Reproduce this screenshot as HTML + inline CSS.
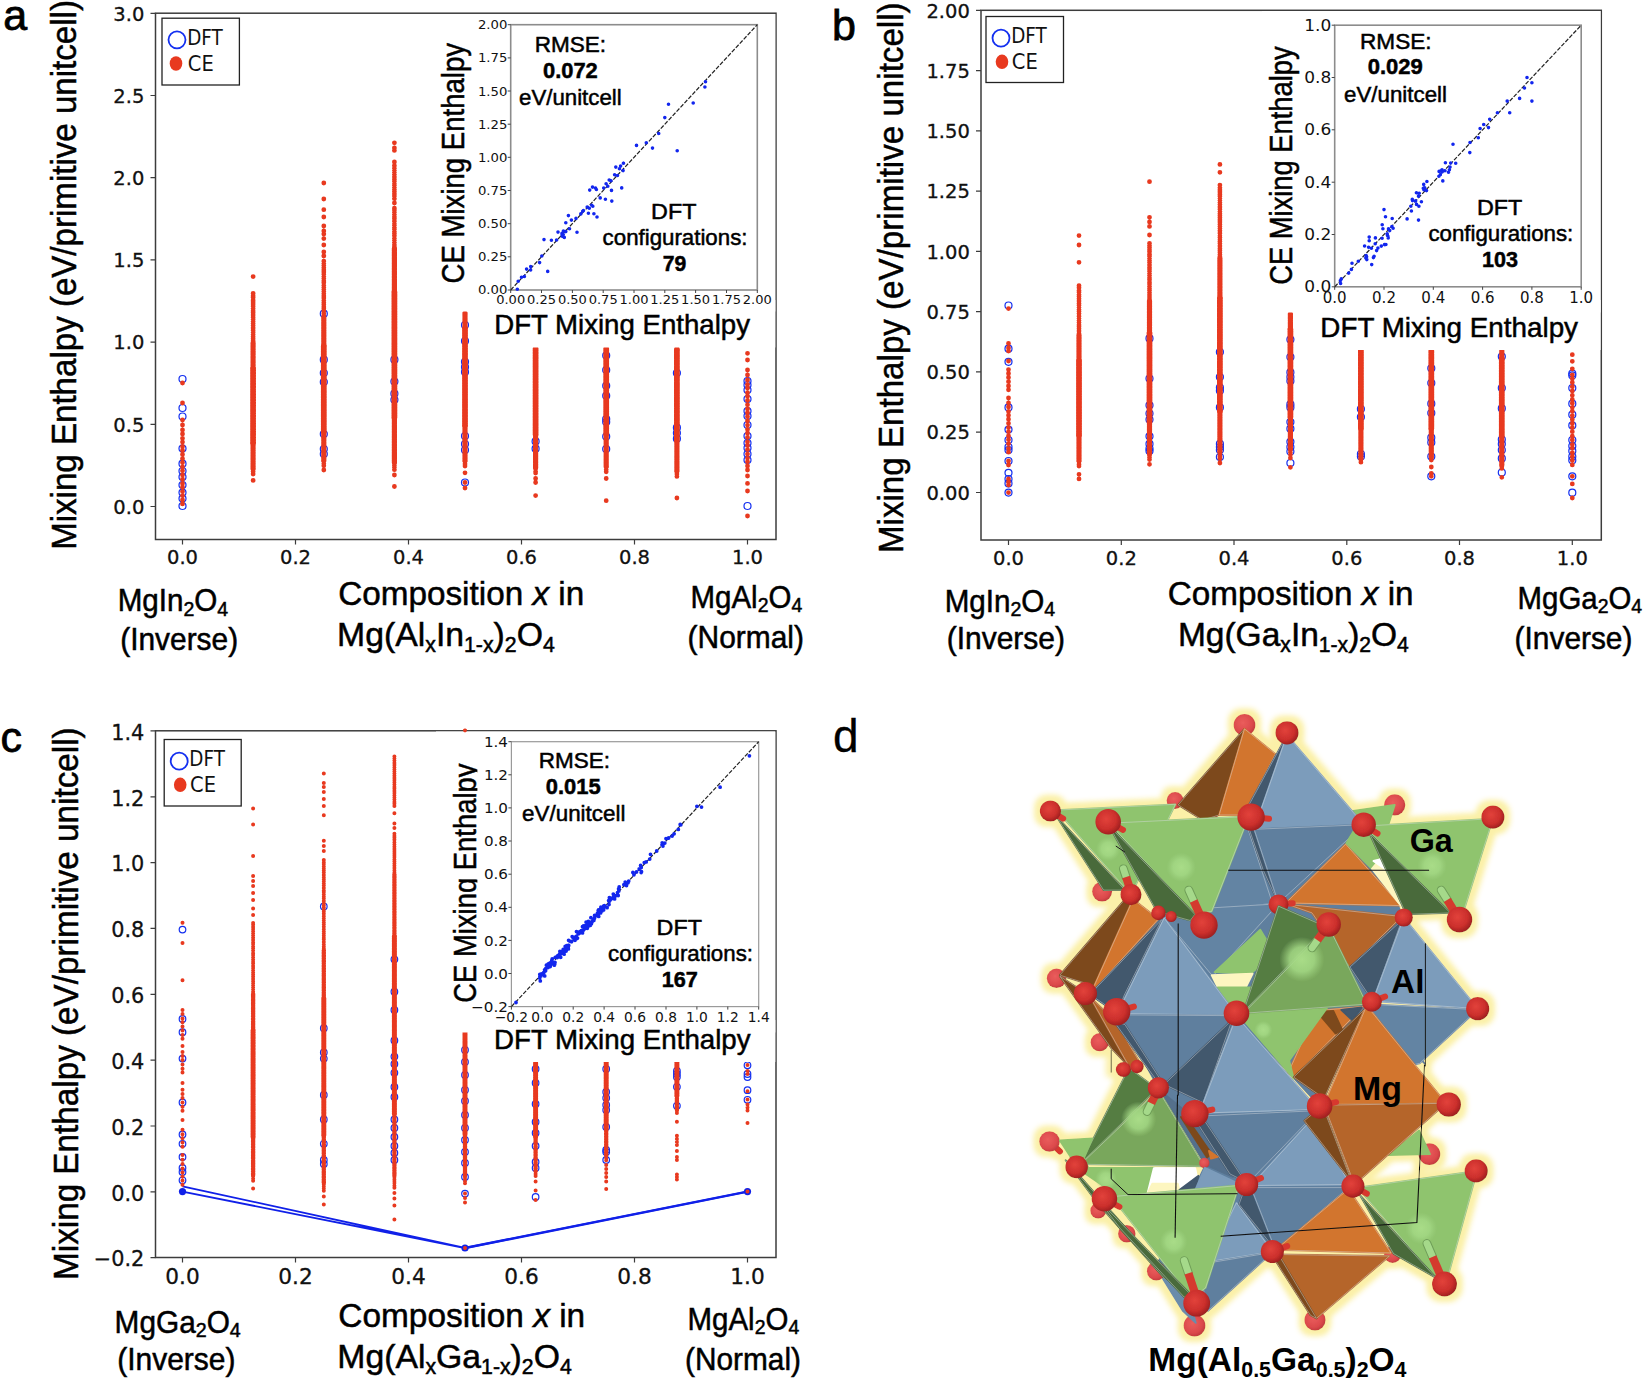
<!DOCTYPE html>
<html lang="en"><head><meta charset="utf-8"><title>Mixing enthalpy figure</title>
<style>html,body{margin:0;padding:0;background:#fff}svg{display:block}</style></head>
<body>
<svg width="1644" height="1381" viewBox="0 0 1644 1381">
<rect width="1644" height="1381" fill="#fff"/>
<g fill="none" stroke="#1430f0" stroke-width="1.2"><circle cx="182.5" cy="379.0" r="3.5"/><circle cx="182.5" cy="408.0" r="3.5"/><circle cx="182.5" cy="416.5" r="3.5"/><circle cx="182.5" cy="448.5" r="3.5"/><circle cx="182.5" cy="463.7" r="3.5"/><circle cx="182.5" cy="471.0" r="3.5"/><circle cx="182.5" cy="477.0" r="3.5"/><circle cx="182.5" cy="485.0" r="3.5"/><circle cx="182.5" cy="492.6" r="3.5"/><circle cx="182.5" cy="498.6" r="3.5"/><circle cx="182.5" cy="506.0" r="3.5"/><circle cx="323.8" cy="313.7" r="3.5"/><circle cx="323.8" cy="359.7" r="3.5"/><circle cx="323.8" cy="373.0" r="3.5"/><circle cx="323.8" cy="382.0" r="3.5"/><circle cx="323.8" cy="434.0" r="3.5"/><circle cx="323.8" cy="449.0" r="3.5"/><circle cx="323.8" cy="454.0" r="3.5"/><circle cx="394.4" cy="359.7" r="3.5"/><circle cx="394.4" cy="381.6" r="3.5"/><circle cx="394.4" cy="393.7" r="3.5"/><circle cx="394.4" cy="399.8" r="3.5"/><circle cx="465.0" cy="325.0" r="3.5"/><circle cx="465.0" cy="341.0" r="3.5"/><circle cx="465.0" cy="361.8" r="3.5"/><circle cx="465.0" cy="367.0" r="3.5"/><circle cx="465.0" cy="372.0" r="3.5"/><circle cx="465.0" cy="436.0" r="3.5"/><circle cx="465.0" cy="444.0" r="3.5"/><circle cx="465.0" cy="450.0" r="3.5"/><circle cx="465.0" cy="482.5" r="3.5"/><circle cx="535.6" cy="441.4" r="3.5"/><circle cx="535.6" cy="448.7" r="3.5"/><circle cx="606.2" cy="355.6" r="3.5"/><circle cx="606.2" cy="370.0" r="3.5"/><circle cx="606.2" cy="385.8" r="3.5"/><circle cx="606.2" cy="395.8" r="3.5"/><circle cx="606.2" cy="419.0" r="3.5"/><circle cx="606.2" cy="422.0" r="3.5"/><circle cx="606.2" cy="436.5" r="3.5"/><circle cx="606.2" cy="449.0" r="3.5"/><circle cx="676.9" cy="373.0" r="3.5"/><circle cx="676.9" cy="427.7" r="3.5"/><circle cx="676.9" cy="433.0" r="3.5"/><circle cx="676.9" cy="438.7" r="3.5"/><circle cx="747.5" cy="381.0" r="3.5"/><circle cx="747.5" cy="385.0" r="3.5"/><circle cx="747.5" cy="390.0" r="3.5"/><circle cx="747.5" cy="399.0" r="3.5"/><circle cx="747.5" cy="411.0" r="3.5"/><circle cx="747.5" cy="416.0" r="3.5"/><circle cx="747.5" cy="425.0" r="3.5"/><circle cx="747.5" cy="436.0" r="3.5"/><circle cx="747.5" cy="443.0" r="3.5"/><circle cx="747.5" cy="448.0" r="3.5"/><circle cx="747.5" cy="454.0" r="3.5"/><circle cx="747.5" cy="460.0" r="3.5"/><circle cx="747.5" cy="506.0" r="3.5"/></g>
<path d="M182.5 429.9h.01M182.5 433.9h.01M182.5 438.3h.01M182.5 442.1h.01M182.5 446.4h.01M182.5 450.4h.01M182.5 454.4h.01M182.5 458.7h.01M182.5 462.6h.01M182.5 466.9h.01M182.5 470.8h.01M182.5 474.9h.01M182.5 479.2h.01M182.5 483.5h.01M182.5 487.2h.01M182.5 491.4h.01M182.5 495.7h.01M182.5 500.0h.01M182.5 503.9h.01M182.5 403.0h.01M182.5 383.0h.01M182.5 420.0h.01M182.5 425.0h.01M253.1 293.4h.01M253.1 295.9h.01M253.1 297.5h.01M253.1 300.2h.01M253.1 302.0h.01M253.1 304.1h.01M253.1 306.2h.01M253.1 308.5h.01M253.1 311.0h.01M253.1 312.7h.01M253.1 315.1h.01M253.1 317.3h.01M253.1 319.3h.01M253.1 321.6h.01M253.1 323.5h.01M253.1 325.6h.01M253.1 327.9h.01M253.1 330.3h.01M253.1 332.3h.01M253.1 334.4h.01M253.1 336.8h.01M253.1 338.8h.01M253.1 340.9h.01M253.1 469.5h.01M253.1 471.5h.01M253.1 474.0h.01M253.1 276.6h.01M253.1 480.4h.01M323.8 261.2h.01M323.8 263.4h.01M323.8 265.6h.01M323.8 267.8h.01M323.8 270.0h.01M323.8 272.0h.01M323.8 274.2h.01M323.8 276.4h.01M323.8 278.5h.01M323.8 280.9h.01M323.8 282.8h.01M323.8 285.5h.01M323.8 287.5h.01M323.8 289.4h.01M323.8 291.6h.01M323.8 293.8h.01M323.8 296.0h.01M323.8 298.0h.01M323.8 300.6h.01M323.8 302.8h.01M323.8 304.7h.01M323.8 306.9h.01M323.8 308.8h.01M323.8 310.9h.01M323.8 313.2h.01M323.8 315.4h.01M323.8 461.5h.01M323.8 463.8h.01M323.8 465.8h.01M323.8 252.0h.01M323.8 238.6h.01M323.8 234.0h.01M323.8 231.0h.01M323.8 217.0h.01M323.8 209.7h.01M323.8 199.0h.01M323.8 183.0h.01M323.8 256.0h.01M323.8 245.0h.01M323.8 226.0h.01M323.8 470.0h.01M394.4 208.2h.01M394.4 210.1h.01M394.4 212.3h.01M394.4 214.5h.01M394.4 216.9h.01M394.4 218.8h.01M394.4 221.2h.01M394.4 223.1h.01M394.4 225.3h.01M394.4 227.5h.01M394.4 229.3h.01M394.4 231.7h.01M394.4 233.7h.01M394.4 235.8h.01M394.4 238.4h.01M394.4 240.2h.01M394.4 242.5h.01M394.4 244.9h.01M394.4 246.9h.01M394.4 463.4h.01M394.4 465.5h.01M394.4 467.5h.01M394.4 469.7h.01M394.4 165.7h.01M394.4 168.3h.01M394.4 170.2h.01M394.4 172.3h.01M394.4 174.4h.01M394.4 177.0h.01M394.4 179.2h.01M394.4 181.2h.01M394.4 183.1h.01M394.4 185.3h.01M394.4 187.5h.01M394.4 189.7h.01M394.4 191.7h.01M394.4 194.0h.01M394.4 196.1h.01M394.4 198.7h.01M394.4 150.4h.01M394.4 148.0h.01M394.4 142.8h.01M394.4 486.5h.01M394.4 475.0h.01M394.4 203.0h.01M394.4 162.0h.01M465.0 461.7h.01M465.0 464.0h.01M465.0 466.1h.01M465.0 472.8h.01M465.0 482.5h.01M465.0 488.0h.01M535.6 468.7h.01M535.6 471.4h.01M535.6 473.1h.01M535.6 482.5h.01M535.6 495.6h.01M535.6 478.5h.01M606.2 467.2h.01M606.2 469.8h.01M606.2 471.8h.01M606.2 478.5h.01M606.2 500.7h.01M676.9 472.0h.01M676.9 474.1h.01M676.9 476.4h.01M676.9 498.0h.01M747.5 379.9h.01M747.5 384.4h.01M747.5 388.0h.01M747.5 392.6h.01M747.5 396.2h.01M747.5 400.4h.01M747.5 404.8h.01M747.5 408.9h.01M747.5 412.8h.01M747.5 416.7h.01M747.5 421.0h.01M747.5 425.1h.01M747.5 429.5h.01M747.5 433.2h.01M747.5 437.4h.01M747.5 441.8h.01M747.5 445.4h.01M747.5 449.7h.01M747.5 454.1h.01M747.5 458.1h.01M747.5 461.8h.01M747.5 465.9h.01M747.5 470.0h.01M747.5 353.3h.01M747.5 360.0h.01M747.5 370.0h.01M747.5 375.0h.01M747.5 483.4h.01M747.5 491.0h.01M747.5 516.0h.01M747.5 476.0h.01" stroke="#e8391f" stroke-width="4.8" stroke-linecap="round" fill="none"/>
<path d="M253.1 343.4h.01M253.1 344.9h.01M253.1 346.2h.01M253.1 348.0h.01M253.1 349.6h.01M253.1 351.4h.01M253.1 352.9h.01M253.1 354.3h.01M253.1 356.3h.01M253.1 357.4h.01M253.1 359.1h.01M253.1 360.9h.01M253.1 362.2h.01M253.1 364.0h.01M253.1 365.3h.01M253.1 367.3h.01M253.1 443.8h.01M253.1 445.3h.01M253.1 447.1h.01M253.1 448.7h.01M253.1 450.4h.01M253.1 452.3h.01M253.1 453.7h.01M253.1 455.2h.01M253.1 456.9h.01M253.1 458.5h.01M253.1 459.7h.01M253.1 461.8h.01M253.1 463.3h.01M253.1 465.0h.01M253.1 466.6h.01M253.1 467.9h.01M323.8 317.9h.01M323.8 319.1h.01M323.8 320.6h.01M323.8 322.7h.01M323.8 324.1h.01M323.8 325.4h.01M323.8 327.3h.01M323.8 328.6h.01M323.8 330.5h.01M323.8 332.3h.01M323.8 333.9h.01M323.8 335.4h.01M323.8 336.7h.01M323.8 338.4h.01M323.8 339.9h.01M323.8 341.8h.01M323.8 343.3h.01M323.8 345.0h.01M323.8 433.1h.01M323.8 434.6h.01M323.8 436.0h.01M323.8 437.7h.01M323.8 439.0h.01M323.8 440.6h.01M323.8 442.7h.01M323.8 444.1h.01M323.8 445.7h.01M323.8 447.5h.01M323.8 448.8h.01M323.8 450.7h.01M323.8 452.3h.01M323.8 453.5h.01M323.8 455.1h.01M323.8 456.7h.01M323.8 458.3h.01M323.8 460.1h.01M394.4 248.9h.01M394.4 250.7h.01M394.4 252.3h.01M394.4 254.0h.01M394.4 255.2h.01M394.4 257.1h.01M394.4 258.5h.01M394.4 260.1h.01M394.4 262.0h.01M394.4 263.4h.01M394.4 265.1h.01M394.4 266.8h.01M394.4 268.5h.01M394.4 269.8h.01M394.4 271.5h.01M394.4 273.0h.01M394.4 274.6h.01M394.4 276.4h.01M394.4 277.8h.01M394.4 279.5h.01M394.4 281.0h.01M394.4 282.9h.01M394.4 284.4h.01M394.4 286.1h.01M394.4 287.7h.01M394.4 288.9h.01M394.4 290.7h.01M394.4 418.5h.01M394.4 420.1h.01M394.4 422.0h.01M394.4 423.3h.01M394.4 425.0h.01M394.4 426.4h.01M394.4 428.1h.01M394.4 429.6h.01M394.4 431.3h.01M394.4 432.7h.01M394.4 434.8h.01M394.4 436.3h.01M394.4 437.7h.01M394.4 439.4h.01M394.4 441.3h.01M394.4 442.4h.01M394.4 444.4h.01M394.4 445.8h.01M394.4 447.4h.01M394.4 449.2h.01M394.4 450.6h.01M394.4 452.2h.01M394.4 454.0h.01M394.4 455.7h.01M394.4 456.9h.01M394.4 458.8h.01M394.4 460.4h.01M394.4 461.9h.01M465.0 313.3h.01M465.0 314.6h.01M465.0 316.0h.01M465.0 318.1h.01M465.0 319.3h.01M465.0 320.9h.01M465.0 322.3h.01M465.0 324.1h.01M465.0 325.8h.01M465.0 327.4h.01M465.0 426.4h.01M465.0 428.3h.01M465.0 430.1h.01M465.0 431.4h.01M465.0 432.9h.01M465.0 434.6h.01M465.0 436.3h.01M465.0 438.0h.01M465.0 439.5h.01M465.0 441.1h.01M465.0 442.3h.01M465.0 444.0h.01M465.0 445.7h.01M465.0 447.5h.01M465.0 448.9h.01M465.0 450.6h.01M465.0 451.9h.01M465.0 453.5h.01M465.0 455.3h.01M465.0 457.1h.01M465.0 458.7h.01M465.0 460.3h.01M535.6 435.3h.01M535.6 437.3h.01M535.6 438.4h.01M535.6 440.1h.01M535.6 441.8h.01M535.6 443.2h.01M535.6 444.9h.01M535.6 446.9h.01M535.6 448.4h.01M535.6 450.0h.01M535.6 451.5h.01M535.6 453.2h.01M535.6 454.9h.01M535.6 456.2h.01M535.6 457.9h.01M535.6 459.1h.01M535.6 461.1h.01M535.6 462.6h.01M535.6 464.4h.01M535.6 465.9h.01M535.6 467.3h.01M606.2 435.5h.01M606.2 436.7h.01M606.2 438.5h.01M606.2 440.5h.01M606.2 442.0h.01M606.2 443.6h.01M606.2 445.3h.01M606.2 446.4h.01M606.2 448.0h.01M606.2 449.6h.01M606.2 451.4h.01M606.2 453.1h.01M606.2 454.9h.01M606.2 456.3h.01M606.2 457.9h.01M606.2 459.6h.01M606.2 461.0h.01M606.2 462.6h.01M606.2 463.9h.01M606.2 466.0h.01M676.9 348.9h.01M676.9 442.1h.01M676.9 443.2h.01M676.9 444.7h.01M676.9 446.3h.01M676.9 448.1h.01M676.9 450.0h.01M676.9 451.6h.01M676.9 453.1h.01M676.9 454.9h.01M676.9 456.5h.01M676.9 457.7h.01M676.9 459.2h.01M676.9 461.3h.01M676.9 462.7h.01M676.9 463.9h.01M676.9 465.9h.01M676.9 467.3h.01M676.9 468.9h.01M676.9 470.5h.01" stroke="#e8391f" stroke-width="5.3" stroke-linecap="round" fill="none"/>
<path d="M253.1 368.9h.01M253.1 370.4h.01M253.1 372.2h.01M253.1 373.5h.01M253.1 375.3h.01M253.1 376.8h.01M253.1 378.4h.01M253.1 380.0h.01M253.1 381.8h.01M253.1 383.4h.01M253.1 384.8h.01M253.1 386.5h.01M253.1 387.7h.01M253.1 389.7h.01M253.1 391.3h.01M253.1 393.1h.01M253.1 394.6h.01M253.1 395.9h.01M253.1 397.5h.01M253.1 399.3h.01M253.1 400.5h.01M253.1 402.4h.01M253.1 403.8h.01M253.1 405.4h.01M253.1 406.9h.01M253.1 408.9h.01M253.1 410.2h.01M253.1 411.8h.01M253.1 413.5h.01M253.1 415.4h.01M253.1 416.5h.01M253.1 418.3h.01M253.1 420.0h.01M253.1 421.8h.01M253.1 423.4h.01M253.1 425.0h.01M253.1 426.2h.01M253.1 427.9h.01M253.1 429.5h.01M253.1 431.4h.01M253.1 433.1h.01M253.1 434.2h.01M253.1 435.8h.01M253.1 437.4h.01M253.1 439.0h.01M253.1 440.8h.01M253.1 442.4h.01M323.8 346.4h.01M323.8 347.9h.01M323.8 349.8h.01M323.8 351.6h.01M323.8 353.1h.01M323.8 354.6h.01M323.8 356.3h.01M323.8 357.8h.01M323.8 359.1h.01M323.8 360.9h.01M323.8 362.4h.01M323.8 363.8h.01M323.8 365.4h.01M323.8 367.1h.01M323.8 368.7h.01M323.8 370.6h.01M323.8 372.3h.01M323.8 373.6h.01M323.8 375.5h.01M323.8 377.2h.01M323.8 378.7h.01M323.8 380.0h.01M323.8 381.5h.01M323.8 383.1h.01M323.8 384.7h.01M323.8 386.3h.01M323.8 388.1h.01M323.8 389.9h.01M323.8 391.5h.01M323.8 392.8h.01M323.8 394.6h.01M323.8 396.2h.01M323.8 397.4h.01M323.8 399.4h.01M323.8 401.1h.01M323.8 402.6h.01M323.8 404.2h.01M323.8 405.6h.01M323.8 407.1h.01M323.8 409.0h.01M323.8 410.4h.01M323.8 412.2h.01M323.8 413.9h.01M323.8 415.2h.01M323.8 416.8h.01M323.8 418.7h.01M323.8 420.2h.01M323.8 421.5h.01M323.8 423.0h.01M323.8 424.7h.01M323.8 426.7h.01M323.8 428.2h.01M323.8 429.4h.01M323.8 431.5h.01M394.4 292.5h.01M394.4 294.0h.01M394.4 295.2h.01M394.4 296.8h.01M394.4 298.6h.01M394.4 300.0h.01M394.4 301.7h.01M394.4 303.2h.01M394.4 305.1h.01M394.4 306.8h.01M394.4 308.5h.01M394.4 309.6h.01M394.4 311.6h.01M394.4 313.1h.01M394.4 314.4h.01M394.4 316.5h.01M394.4 318.1h.01M394.4 319.3h.01M394.4 321.3h.01M394.4 322.6h.01M394.4 324.2h.01M394.4 326.1h.01M394.4 327.6h.01M394.4 328.8h.01M394.4 330.6h.01M394.4 332.2h.01M394.4 333.7h.01M394.4 335.3h.01M394.4 336.9h.01M394.4 338.8h.01M394.4 340.0h.01M394.4 341.9h.01M394.4 343.4h.01M394.4 344.8h.01M394.4 346.5h.01M394.4 348.3h.01M394.4 349.8h.01M394.4 351.2h.01M394.4 353.3h.01M394.4 354.8h.01M394.4 356.5h.01M394.4 357.6h.01M394.4 359.3h.01M394.4 360.8h.01M394.4 362.8h.01M394.4 364.1h.01M394.4 365.6h.01M394.4 367.4h.01M394.4 369.3h.01M394.4 370.8h.01M394.4 372.1h.01M394.4 373.6h.01M394.4 375.7h.01M394.4 377.1h.01M394.4 378.8h.01M394.4 380.0h.01M394.4 381.6h.01M394.4 383.6h.01M394.4 385.0h.01M394.4 386.4h.01M394.4 388.5h.01M394.4 389.9h.01M394.4 391.6h.01M394.4 392.8h.01M394.4 394.9h.01M394.4 396.0h.01M394.4 398.1h.01M394.4 399.4h.01M394.4 400.9h.01M394.4 402.7h.01M394.4 404.5h.01M394.4 405.7h.01M394.4 407.2h.01M394.4 409.1h.01M394.4 410.5h.01M394.4 412.0h.01M394.4 413.6h.01M394.4 415.2h.01M394.4 416.9h.01M465.0 328.8h.01M465.0 330.6h.01M465.0 331.9h.01M465.0 333.7h.01M465.0 335.2h.01M465.0 336.9h.01M465.0 338.3h.01M465.0 339.9h.01M465.0 341.7h.01M465.0 343.2h.01M465.0 345.1h.01M465.0 346.6h.01M465.0 348.4h.01M465.0 349.9h.01M465.0 351.5h.01M465.0 353.2h.01M465.0 354.5h.01M465.0 356.1h.01M465.0 358.1h.01M465.0 359.2h.01M465.0 361.1h.01M465.0 362.7h.01M465.0 363.9h.01M465.0 366.0h.01M465.0 367.6h.01M465.0 369.1h.01M465.0 370.7h.01M465.0 372.4h.01M465.0 373.6h.01M465.0 375.4h.01M465.0 377.0h.01M465.0 378.8h.01M465.0 380.4h.01M465.0 382.0h.01M465.0 383.5h.01M465.0 385.2h.01M465.0 386.7h.01M465.0 388.3h.01M465.0 389.6h.01M465.0 391.1h.01M465.0 392.8h.01M465.0 394.5h.01M465.0 396.0h.01M465.0 398.0h.01M465.0 399.4h.01M465.0 401.1h.01M465.0 402.7h.01M465.0 404.3h.01M465.0 405.8h.01M465.0 407.1h.01M465.0 409.2h.01M465.0 410.7h.01M465.0 412.2h.01M465.0 413.8h.01M465.0 415.5h.01M465.0 416.7h.01M465.0 418.7h.01M465.0 420.1h.01M465.0 421.5h.01M465.0 423.3h.01M465.0 425.1h.01M535.6 349.0h.01M535.6 350.4h.01M535.6 352.4h.01M535.6 353.6h.01M535.6 355.7h.01M535.6 357.3h.01M535.6 358.3h.01M535.6 360.2h.01M535.6 362.0h.01M535.6 363.7h.01M535.6 365.0h.01M535.6 366.5h.01M535.6 368.0h.01M535.6 370.1h.01M535.6 371.2h.01M535.6 373.0h.01M535.6 374.4h.01M535.6 376.2h.01M535.6 378.1h.01M535.6 379.2h.01M535.6 381.2h.01M535.6 382.6h.01M535.6 384.4h.01M535.6 385.9h.01M535.6 387.2h.01M535.6 389.2h.01M535.6 390.6h.01M535.6 391.9h.01M535.6 393.5h.01M535.6 395.4h.01M535.6 397.0h.01M535.6 398.5h.01M535.6 400.0h.01M535.6 401.7h.01M535.6 403.3h.01M535.6 405.2h.01M535.6 406.3h.01M535.6 408.4h.01M535.6 410.0h.01M535.6 411.2h.01M535.6 413.3h.01M535.6 414.7h.01M535.6 416.4h.01M535.6 417.7h.01M535.6 419.3h.01M535.6 420.9h.01M535.6 422.9h.01M535.6 424.3h.01M535.6 425.7h.01M535.6 427.4h.01M535.6 428.9h.01M535.6 430.3h.01M535.6 432.0h.01M535.6 434.0h.01M606.2 349.0h.01M606.2 350.5h.01M606.2 352.1h.01M606.2 353.9h.01M606.2 355.7h.01M606.2 356.9h.01M606.2 358.7h.01M606.2 360.1h.01M606.2 361.8h.01M606.2 363.3h.01M606.2 364.8h.01M606.2 366.4h.01M606.2 368.0h.01M606.2 370.0h.01M606.2 371.4h.01M606.2 372.8h.01M606.2 374.8h.01M606.2 376.5h.01M606.2 377.8h.01M606.2 379.2h.01M606.2 380.8h.01M606.2 382.4h.01M606.2 384.1h.01M606.2 385.6h.01M606.2 387.2h.01M606.2 388.9h.01M606.2 390.6h.01M606.2 392.4h.01M606.2 393.9h.01M606.2 395.3h.01M606.2 396.9h.01M606.2 398.6h.01M606.2 400.1h.01M606.2 401.7h.01M606.2 403.1h.01M606.2 404.9h.01M606.2 406.9h.01M606.2 408.0h.01M606.2 409.8h.01M606.2 411.5h.01M606.2 413.2h.01M606.2 414.4h.01M606.2 416.1h.01M606.2 417.6h.01M606.2 419.3h.01M606.2 421.0h.01M606.2 422.9h.01M606.2 424.4h.01M606.2 426.0h.01M606.2 427.1h.01M606.2 428.7h.01M606.2 430.7h.01M606.2 432.4h.01M606.2 433.8h.01M676.9 350.4h.01M676.9 352.1h.01M676.9 353.9h.01M676.9 355.5h.01M676.9 356.8h.01M676.9 358.3h.01M676.9 360.2h.01M676.9 361.8h.01M676.9 363.3h.01M676.9 364.8h.01M676.9 366.7h.01M676.9 367.9h.01M676.9 369.7h.01M676.9 371.4h.01M676.9 373.3h.01M676.9 374.7h.01M676.9 376.4h.01M676.9 377.8h.01M676.9 379.2h.01M676.9 380.8h.01M676.9 382.9h.01M676.9 384.3h.01M676.9 385.7h.01M676.9 387.1h.01M676.9 389.0h.01M676.9 390.7h.01M676.9 392.2h.01M676.9 393.7h.01M676.9 395.5h.01M676.9 397.3h.01M676.9 398.4h.01M676.9 399.9h.01M676.9 401.7h.01M676.9 403.4h.01M676.9 405.1h.01M676.9 406.4h.01M676.9 408.4h.01M676.9 409.9h.01M676.9 411.4h.01M676.9 412.8h.01M676.9 414.9h.01M676.9 416.1h.01M676.9 418.0h.01M676.9 419.2h.01M676.9 420.8h.01M676.9 422.8h.01M676.9 424.1h.01M676.9 426.1h.01M676.9 427.4h.01M676.9 428.8h.01M676.9 430.4h.01M676.9 432.2h.01M676.9 433.9h.01M676.9 435.7h.01M676.9 436.8h.01M676.9 438.5h.01M676.9 440.0h.01" stroke="#e8391f" stroke-width="5.9" stroke-linecap="round" fill="none"/>

<rect x="155.5" y="13.2" width="620.5" height="526.3" fill="none" stroke="#3c3c3c" stroke-width="1.5"/>
<path d="M182.5 539.5v5M295.5 539.5v5M408.5 539.5v5M521.5 539.5v5M634.5 539.5v5M747.5 539.5v5M155.5 506.5h-5M155.5 424.3h-5M155.5 342.1h-5M155.5 259.9h-5M155.5 177.7h-5M155.5 95.5h-5M155.5 13.3h-5" stroke="#3c3c3c" stroke-width="1.2" fill="none"/>
<g font-family='"DejaVu Sans",sans-serif' font-size="19.5" fill="#111" stroke="#111" stroke-width="0.3">
<text x="182.5" y="564.1" text-anchor="middle">0.0</text>
<text x="295.5" y="564.1" text-anchor="middle">0.2</text>
<text x="408.5" y="564.1" text-anchor="middle">0.4</text>
<text x="521.5" y="564.1" text-anchor="middle">0.6</text>
<text x="634.5" y="564.1" text-anchor="middle">0.8</text>
<text x="747.5" y="564.1" text-anchor="middle">1.0</text>
<text x="144.3" y="513.7" text-anchor="end">0.0</text>
<text x="144.3" y="431.5" text-anchor="end">0.5</text>
<text x="144.3" y="349.3" text-anchor="end">1.0</text>
<text x="144.3" y="267.1" text-anchor="end">1.5</text>
<text x="144.3" y="184.9" text-anchor="end">2.0</text>
<text x="144.3" y="102.7" text-anchor="end">2.5</text>
<text x="144.3" y="20.5" text-anchor="end">3.0</text>
</g>
<rect x="436" y="14" width="339.3" height="297.5" fill="#fff"/><rect x="488" y="300" width="287.3" height="47.5" fill="#fff"/>
<rect x="510.7" y="24.7" width="246.6" height="265.3" fill="#fff" stroke="#8c8c8c" stroke-width="1.6"/><path d="M510.7 290.0L757.3 24.7" stroke="#222" stroke-width="1.2" stroke-dasharray="4.2 1.6"/><path d="M617.5 175.5h.01M615.8 167.1h.01M569.5 228.8h.01M592.5 187.1h.01M563.2 234.6h.01M564.3 237.4h.01M541.8 256.0h.01M593.9 213.8h.01M619.4 168.7h.01M580.8 213.9h.01M620.6 166.1h.01M562.3 236.2h.01M577.0 232.3h.01M556.6 240.0h.01M607.8 186.3h.01M605.4 199.2h.01M591.7 205.3h.01M571.4 220.1h.01M606.1 183.8h.01M603.7 188.0h.01M562.0 233.4h.01M587.2 207.1h.01M568.4 215.6h.01M623.1 170.6h.01M563.4 231.0h.01M582.7 211.2h.01M600.2 197.9h.01M576.0 218.4h.01M592.8 206.3h.01M611.5 190.4h.01M596.4 189.5h.01M565.8 222.8h.01M588.4 213.3h.01M558.0 232.1h.01M562.0 234.7h.01M614.6 174.8h.01M589.3 208.2h.01M623.5 163.3h.01M583.4 210.5h.01M595.5 188.0h.01M623.4 163.3h.01M609.2 180.0h.01M611.0 180.7h.01M565.8 231.6h.01M551.4 240.3h.01M589.7 190.1h.01M539.6 262.6h.01M526.6 269.1h.01M521.5 277.3h.01M517.3 289.2h.01M530.6 270.0h.01M524.4 276.5h.01M518.2 281.3h.01M530.7 266.6h.01M668.5 104.3h.01M693.2 103.0h.01M705.5 81.7h.01M704.9 87.0h.01M677.2 150.7h.01M664.8 117.6h.01M547.7 271.4h.01M597.0 217.0h.01M658.7 133.5h.01M652.5 148.1h.01M646.3 142.8h.01M636.5 145.4h.01M544.0 239.6h.01M621.7 187.9h.01M611.8 201.1h.01" stroke="#1226ee" stroke-width="3.6" stroke-linecap="round" fill="none"/><path d="M510.7 290.0v3M541.5 290.0v3M572.4 290.0v3M603.2 290.0v3M634.0 290.0v3M664.8 290.0v3M695.6 290.0v3M726.5 290.0v3M757.3 290.0v3M510.7 290.0h-3M510.7 256.8h-3M510.7 223.7h-3M510.7 190.5h-3M510.7 157.3h-3M510.7 124.2h-3M510.7 91.0h-3M510.7 57.9h-3M510.7 24.7h-3" stroke="#444" stroke-width="1" fill="none"/><g font-family='"DejaVu Sans",sans-serif' font-size="12" fill="#111"><text x="510.7" y="303.5" text-anchor="middle" textLength="29.0" lengthAdjust="spacingAndGlyphs">0.00</text><text x="541.5" y="303.5" text-anchor="middle" textLength="29.0" lengthAdjust="spacingAndGlyphs">0.25</text><text x="572.4" y="303.5" text-anchor="middle" textLength="29.0" lengthAdjust="spacingAndGlyphs">0.50</text><text x="603.2" y="303.5" text-anchor="middle" textLength="29.0" lengthAdjust="spacingAndGlyphs">0.75</text><text x="634.0" y="303.5" text-anchor="middle" textLength="29.0" lengthAdjust="spacingAndGlyphs">1.00</text><text x="664.8" y="303.5" text-anchor="middle" textLength="29.0" lengthAdjust="spacingAndGlyphs">1.25</text><text x="695.6" y="303.5" text-anchor="middle" textLength="29.0" lengthAdjust="spacingAndGlyphs">1.50</text><text x="726.5" y="303.5" text-anchor="middle" textLength="29.0" lengthAdjust="spacingAndGlyphs">1.75</text><text x="757.3" y="303.5" text-anchor="middle" textLength="29.0" lengthAdjust="spacingAndGlyphs">2.00</text><text x="507.3" y="294.4" text-anchor="end" textLength="29.4" lengthAdjust="spacingAndGlyphs">0.00</text><text x="507.3" y="261.3" text-anchor="end" textLength="29.4" lengthAdjust="spacingAndGlyphs">0.25</text><text x="507.3" y="228.1" text-anchor="end" textLength="29.4" lengthAdjust="spacingAndGlyphs">0.50</text><text x="507.3" y="195.0" text-anchor="end" textLength="29.4" lengthAdjust="spacingAndGlyphs">0.75</text><text x="507.3" y="161.8" text-anchor="end" textLength="29.4" lengthAdjust="spacingAndGlyphs">1.00</text><text x="507.3" y="128.6" text-anchor="end" textLength="29.4" lengthAdjust="spacingAndGlyphs">1.25</text><text x="507.3" y="95.5" text-anchor="end" textLength="29.4" lengthAdjust="spacingAndGlyphs">1.50</text><text x="507.3" y="62.3" text-anchor="end" textLength="29.4" lengthAdjust="spacingAndGlyphs">1.75</text><text x="507.3" y="29.1" text-anchor="end" textLength="29.4" lengthAdjust="spacingAndGlyphs">2.00</text></g>
<rect x="162.0" y="18.2" width="77.4" height="66.8" fill="#fff" stroke="#222" stroke-width="1.3"/><circle cx="177.0" cy="39.8" r="8.5" fill="none" stroke="#1430f0" stroke-width="1.8"/><ellipse cx="176.0" cy="63.5" rx="6.3" ry="7.3" fill="#e8391f"/><g font-family='"DejaVu Sans",sans-serif' fill="#111"><text x="187.15" y="44.70" font-size="21.50" textLength="35.63" lengthAdjust="spacingAndGlyphs">DFT</text></g><g font-family='"DejaVu Sans",sans-serif' fill="#111"><text x="187.83" y="70.80" font-size="21.50" textLength="25.95" lengthAdjust="spacingAndGlyphs">CE</text></g>

<g transform="translate(463.60 282.00) rotate(-90)"><g font-family='"Liberation Sans",sans-serif' fill="#000" stroke="#000" stroke-width="0.5"><text x="-1.38" y="0.00" font-size="30.80" textLength="240.41" lengthAdjust="spacingAndGlyphs">CE Mixing Enthalpy</text></g></g>
<g font-family='"Liberation Sans",sans-serif' fill="#000" stroke="#000" stroke-width="0.5"><text x="494.19" y="333.80" font-size="28.00" textLength="255.75" lengthAdjust="spacingAndGlyphs">DFT Mixing Enthalpy</text></g>
<g font-family='"Liberation Sans",sans-serif' fill="#000" stroke="#000" stroke-width="0.5"><text x="534.70" y="51.90" font-size="22.20" textLength="71.37" lengthAdjust="spacingAndGlyphs">RMSE:</text></g>
<g font-family='"Liberation Sans",sans-serif' fill="#000" stroke="#000" stroke-width="0.5"><text x="543.03" y="77.60" font-size="22.20" textLength="54.79" lengthAdjust="spacingAndGlyphs" font-weight="bold">0.072</text></g>
<g font-family='"Liberation Sans",sans-serif' fill="#000" stroke="#000" stroke-width="0.5"><text x="519.01" y="105.30" font-size="22.20" textLength="102.71" lengthAdjust="spacingAndGlyphs">eV/unitcell</text></g>
<g transform="translate(76.40 547.20) rotate(-90)"><g font-family='"Liberation Sans",sans-serif' fill="#000" stroke="#000" stroke-width="0.5"><text x="-2.65" y="0.00" font-size="35.20" textLength="549.76" lengthAdjust="spacingAndGlyphs">Mixing Enthalpy (eV/primitive unitcell)</text></g></g>
<g font-family='"Liberation Sans",sans-serif' fill="#000" stroke="#000" stroke-width="0.5"><text x="117.63" y="611.30" font-size="30.50" textLength="65.82" lengthAdjust="spacingAndGlyphs">MgIn</text><text x="183.45" y="615.88" font-size="20.13" textLength="10.87" lengthAdjust="spacingAndGlyphs">2</text><text x="194.32" y="611.30" font-size="30.50" textLength="23.03" lengthAdjust="spacingAndGlyphs">O</text><text x="217.34" y="615.88" font-size="20.13" textLength="10.87" lengthAdjust="spacingAndGlyphs">4</text></g>
<g font-family='"Liberation Sans",sans-serif' fill="#000" stroke="#000" stroke-width="0.5"><text x="120.21" y="649.50" font-size="30.50" textLength="117.90" lengthAdjust="spacingAndGlyphs">(Inverse)</text></g>
<g font-family='"Liberation Sans",sans-serif' fill="#000" stroke="#000" stroke-width="0.5"><text x="338.14" y="604.70" font-size="34.00" textLength="185.04" lengthAdjust="spacingAndGlyphs">Composition</text><text x="532.43" y="604.70" font-size="34.00" textLength="16.65" lengthAdjust="spacingAndGlyphs" font-style="italic">x</text><text x="558.32" y="604.70" font-size="34.00" textLength="25.91" lengthAdjust="spacingAndGlyphs">in</text></g>
<g font-family='"Liberation Sans",sans-serif' fill="#000" stroke="#000" stroke-width="0.5"><text x="337.10" y="645.60" font-size="34.00" textLength="88.16" lengthAdjust="spacingAndGlyphs">Mg(Al</text><text x="425.26" y="651.72" font-size="21.42" textLength="10.63" lengthAdjust="spacingAndGlyphs">x</text><text x="435.90" y="645.60" font-size="34.00" textLength="28.15" lengthAdjust="spacingAndGlyphs">In</text><text x="464.05" y="651.72" font-size="21.42" textLength="29.55" lengthAdjust="spacingAndGlyphs">1-x</text><text x="493.60" y="645.60" font-size="34.00" textLength="11.24" lengthAdjust="spacingAndGlyphs">)</text><text x="504.84" y="651.72" font-size="21.42" textLength="11.83" lengthAdjust="spacingAndGlyphs">2</text><text x="516.67" y="645.60" font-size="34.00" textLength="26.26" lengthAdjust="spacingAndGlyphs">O</text><text x="542.93" y="651.72" font-size="21.42" textLength="11.83" lengthAdjust="spacingAndGlyphs">4</text></g>
<g font-family='"Liberation Sans",sans-serif' fill="#000" stroke="#000" stroke-width="0.5"><text x="690.54" y="607.90" font-size="30.50" textLength="67.12" lengthAdjust="spacingAndGlyphs">MgAl</text><text x="757.67" y="612.48" font-size="20.13" textLength="10.81" lengthAdjust="spacingAndGlyphs">2</text><text x="768.48" y="607.90" font-size="30.50" textLength="22.91" lengthAdjust="spacingAndGlyphs">O</text><text x="791.39" y="612.48" font-size="20.13" textLength="10.81" lengthAdjust="spacingAndGlyphs">4</text></g>
<g font-family='"Liberation Sans",sans-serif' fill="#000" stroke="#000" stroke-width="0.5"><text x="687.60" y="648.30" font-size="30.50" textLength="116.36" lengthAdjust="spacingAndGlyphs">(Normal)</text></g>
<text x="3.2" y="30.4" font-family='"Liberation Sans",sans-serif' font-size="43" stroke="#000" stroke-width="0.8">a</text>
<g fill="none" stroke="#1430f0" stroke-width="1.2"><circle cx="1008.5" cy="305.5" r="3.5"/><circle cx="1008.5" cy="348.7" r="3.5"/><circle cx="1008.5" cy="361.8" r="3.5"/><circle cx="1008.5" cy="407.4" r="3.5"/><circle cx="1008.5" cy="429.6" r="3.5"/><circle cx="1008.5" cy="440.0" r="3.5"/><circle cx="1008.5" cy="447.0" r="3.5"/><circle cx="1008.5" cy="450.0" r="3.5"/><circle cx="1008.5" cy="461.0" r="3.5"/><circle cx="1008.5" cy="472.8" r="3.5"/><circle cx="1008.5" cy="479.0" r="3.5"/><circle cx="1008.5" cy="483.4" r="3.5"/><circle cx="1008.5" cy="492.6" r="3.5"/><circle cx="1149.5" cy="338.4" r="3.5"/><circle cx="1149.5" cy="378.5" r="3.5"/><circle cx="1149.5" cy="405.3" r="3.5"/><circle cx="1149.5" cy="413.5" r="3.5"/><circle cx="1149.5" cy="419.6" r="3.5"/><circle cx="1149.5" cy="436.3" r="3.5"/><circle cx="1149.5" cy="443.9" r="3.5"/><circle cx="1149.5" cy="448.5" r="3.5"/><circle cx="1149.5" cy="451.0" r="3.5"/><circle cx="1219.9" cy="352.0" r="3.5"/><circle cx="1219.9" cy="377.0" r="3.5"/><circle cx="1219.9" cy="387.6" r="3.5"/><circle cx="1219.9" cy="390.7" r="3.5"/><circle cx="1219.9" cy="407.4" r="3.5"/><circle cx="1219.9" cy="443.9" r="3.5"/><circle cx="1219.9" cy="447.0" r="3.5"/><circle cx="1219.9" cy="450.0" r="3.5"/><circle cx="1219.9" cy="457.0" r="3.5"/><circle cx="1290.4" cy="339.6" r="3.5"/><circle cx="1290.4" cy="357.0" r="3.5"/><circle cx="1290.4" cy="372.4" r="3.5"/><circle cx="1290.4" cy="377.0" r="3.5"/><circle cx="1290.4" cy="381.0" r="3.5"/><circle cx="1290.4" cy="404.4" r="3.5"/><circle cx="1290.4" cy="407.4" r="3.5"/><circle cx="1290.4" cy="422.0" r="3.5"/><circle cx="1290.4" cy="428.7" r="3.5"/><circle cx="1290.4" cy="441.8" r="3.5"/><circle cx="1290.4" cy="447.0" r="3.5"/><circle cx="1290.4" cy="451.5" r="3.5"/><circle cx="1290.4" cy="463.0" r="3.5"/><circle cx="1360.9" cy="409.0" r="3.5"/><circle cx="1360.9" cy="417.0" r="3.5"/><circle cx="1360.9" cy="456.5" r="3.5"/><circle cx="1360.9" cy="454.0" r="3.5"/><circle cx="1431.3" cy="368.3" r="3.5"/><circle cx="1431.3" cy="383.0" r="3.5"/><circle cx="1431.3" cy="403.7" r="3.5"/><circle cx="1431.3" cy="413.0" r="3.5"/><circle cx="1431.3" cy="437.7" r="3.5"/><circle cx="1431.3" cy="442.4" r="3.5"/><circle cx="1431.3" cy="456.5" r="3.5"/><circle cx="1431.3" cy="476.3" r="3.5"/><circle cx="1501.8" cy="356.6" r="3.5"/><circle cx="1501.8" cy="388.0" r="3.5"/><circle cx="1501.8" cy="408.4" r="3.5"/><circle cx="1501.8" cy="439.5" r="3.5"/><circle cx="1501.8" cy="444.0" r="3.5"/><circle cx="1501.8" cy="450.0" r="3.5"/><circle cx="1501.8" cy="458.4" r="3.5"/><circle cx="1501.8" cy="472.5" r="3.5"/><circle cx="1572.3" cy="373.5" r="3.5"/><circle cx="1572.3" cy="375.4" r="3.5"/><circle cx="1572.3" cy="388.0" r="3.5"/><circle cx="1572.3" cy="403.7" r="3.5"/><circle cx="1572.3" cy="414.7" r="3.5"/><circle cx="1572.3" cy="425.4" r="3.5"/><circle cx="1572.3" cy="440.0" r="3.5"/><circle cx="1572.3" cy="446.0" r="3.5"/><circle cx="1572.3" cy="450.9" r="3.5"/><circle cx="1572.3" cy="456.5" r="3.5"/><circle cx="1572.3" cy="460.3" r="3.5"/><circle cx="1572.3" cy="476.3" r="3.5"/><circle cx="1572.3" cy="492.7" r="3.5"/></g>
<path d="M1008.5 369.6h.01M1008.5 373.4h.01M1008.5 377.4h.01M1008.5 381.7h.01M1008.5 386.0h.01M1008.5 389.8h.01M1008.5 402.9h.01M1008.5 406.9h.01M1008.5 411.4h.01M1008.5 415.3h.01M1008.5 419.2h.01M1008.5 423.3h.01M1008.5 427.6h.01M1008.5 431.8h.01M1008.5 435.9h.01M1008.5 439.7h.01M1008.5 443.8h.01M1008.5 448.3h.01M1008.5 452.2h.01M1008.5 308.6h.01M1008.5 343.5h.01M1008.5 348.0h.01M1008.5 351.0h.01M1008.5 361.0h.01M1008.5 398.0h.01M1008.5 461.0h.01M1008.5 465.0h.01M1008.5 479.0h.01M1008.5 482.0h.01M1008.5 485.0h.01M1008.5 492.6h.01M1079.0 285.7h.01M1079.0 287.8h.01M1079.0 290.4h.01M1079.0 292.2h.01M1079.0 294.5h.01M1079.0 296.5h.01M1079.0 298.7h.01M1079.0 301.1h.01M1079.0 303.4h.01M1079.0 305.2h.01M1079.0 307.2h.01M1079.0 309.7h.01M1079.0 311.5h.01M1079.0 313.6h.01M1079.0 316.3h.01M1079.0 318.2h.01M1079.0 320.6h.01M1079.0 322.5h.01M1079.0 324.9h.01M1079.0 326.8h.01M1079.0 328.8h.01M1079.0 330.9h.01M1079.0 333.4h.01M1079.0 461.8h.01M1079.0 464.3h.01M1079.0 466.0h.01M1079.0 235.6h.01M1079.0 245.0h.01M1079.0 262.3h.01M1079.0 474.3h.01M1079.0 478.9h.01M1149.5 243.4h.01M1149.5 245.7h.01M1149.5 247.7h.01M1149.5 249.9h.01M1149.5 251.7h.01M1149.5 254.3h.01M1149.5 256.2h.01M1149.5 258.6h.01M1149.5 260.7h.01M1149.5 262.4h.01M1149.5 265.0h.01M1149.5 267.2h.01M1149.5 268.9h.01M1149.5 271.2h.01M1149.5 273.6h.01M1149.5 275.4h.01M1149.5 278.0h.01M1149.5 279.8h.01M1149.5 282.3h.01M1149.5 284.0h.01M1149.5 286.4h.01M1149.5 288.8h.01M1149.5 290.5h.01M1149.5 292.7h.01M1149.5 295.0h.01M1149.5 297.1h.01M1149.5 299.1h.01M1149.5 455.4h.01M1149.5 457.4h.01M1149.5 459.6h.01M1149.5 181.7h.01M1149.5 217.3h.01M1149.5 221.9h.01M1149.5 226.4h.01M1149.5 235.0h.01M1149.5 464.3h.01M1219.9 185.1h.01M1219.9 187.8h.01M1219.9 189.9h.01M1219.9 191.9h.01M1219.9 194.2h.01M1219.9 196.2h.01M1219.9 198.2h.01M1219.9 200.3h.01M1219.9 202.5h.01M1219.9 204.6h.01M1219.9 206.9h.01M1219.9 209.3h.01M1219.9 211.4h.01M1219.9 213.7h.01M1219.9 215.8h.01M1219.9 217.7h.01M1219.9 220.0h.01M1219.9 222.1h.01M1219.9 224.5h.01M1219.9 226.5h.01M1219.9 228.5h.01M1219.9 230.8h.01M1219.9 233.2h.01M1219.9 234.9h.01M1219.9 237.5h.01M1219.9 239.1h.01M1219.9 241.4h.01M1219.9 243.6h.01M1219.9 246.0h.01M1219.9 248.3h.01M1219.9 250.3h.01M1219.9 252.3h.01M1219.9 254.7h.01M1219.9 256.6h.01M1219.9 452.5h.01M1219.9 454.5h.01M1219.9 456.7h.01M1219.9 458.7h.01M1219.9 164.4h.01M1219.9 172.3h.01M1219.9 463.0h.01M1290.4 449.8h.01M1290.4 452.3h.01M1290.4 454.6h.01M1290.4 467.3h.01M1290.4 458.0h.01M1360.9 459.7h.01M1360.9 462.2h.01M1431.3 458.4h.01M1431.3 460.1h.01M1431.3 467.0h.01M1431.3 473.5h.01M1431.3 476.3h.01M1501.8 466.4h.01M1501.8 468.4h.01M1501.8 477.3h.01M1572.3 374.8h.01M1572.3 378.6h.01M1572.3 382.4h.01M1572.3 386.7h.01M1572.3 391.0h.01M1572.3 395.3h.01M1572.3 399.4h.01M1572.3 403.2h.01M1572.3 407.3h.01M1572.3 411.2h.01M1572.3 415.6h.01M1572.3 419.5h.01M1572.3 423.5h.01M1572.3 427.6h.01M1572.3 431.7h.01M1572.3 436.2h.01M1572.3 439.9h.01M1572.3 444.5h.01M1572.3 448.1h.01M1572.3 452.7h.01M1572.3 456.4h.01M1572.3 460.4h.01M1572.3 464.9h.01M1572.3 354.7h.01M1572.3 361.3h.01M1572.3 368.8h.01M1572.3 476.3h.01M1572.3 483.9h.01M1572.3 498.0h.01" stroke="#e8391f" stroke-width="4.8" stroke-linecap="round" fill="none"/>
<path d="M1079.0 335.6h.01M1079.0 337.3h.01M1079.0 338.4h.01M1079.0 340.4h.01M1079.0 341.8h.01M1079.0 343.5h.01M1079.0 344.9h.01M1079.0 346.5h.01M1079.0 348.3h.01M1079.0 350.1h.01M1079.0 351.2h.01M1079.0 353.1h.01M1079.0 354.9h.01M1079.0 356.6h.01M1079.0 357.7h.01M1079.0 359.3h.01M1079.0 436.1h.01M1079.0 437.9h.01M1079.0 439.2h.01M1079.0 440.9h.01M1079.0 442.6h.01M1079.0 444.0h.01M1079.0 445.8h.01M1079.0 447.5h.01M1079.0 448.8h.01M1079.0 450.8h.01M1079.0 452.0h.01M1079.0 454.0h.01M1079.0 455.6h.01M1079.0 457.1h.01M1079.0 458.4h.01M1079.0 460.3h.01M1149.5 301.3h.01M1149.5 302.9h.01M1149.5 305.0h.01M1149.5 306.4h.01M1149.5 308.2h.01M1149.5 309.3h.01M1149.5 311.3h.01M1149.5 312.5h.01M1149.5 314.3h.01M1149.5 316.0h.01M1149.5 317.4h.01M1149.5 319.3h.01M1149.5 320.8h.01M1149.5 322.4h.01M1149.5 324.1h.01M1149.5 325.3h.01M1149.5 327.4h.01M1149.5 328.8h.01M1149.5 330.3h.01M1149.5 332.1h.01M1149.5 423.4h.01M1149.5 424.4h.01M1149.5 426.3h.01M1149.5 427.9h.01M1149.5 429.4h.01M1149.5 430.9h.01M1149.5 432.9h.01M1149.5 434.0h.01M1149.5 436.0h.01M1149.5 437.8h.01M1149.5 438.9h.01M1149.5 440.5h.01M1149.5 442.4h.01M1149.5 443.9h.01M1149.5 445.6h.01M1149.5 447.3h.01M1149.5 448.5h.01M1149.5 450.2h.01M1149.5 451.8h.01M1149.5 453.2h.01M1219.9 258.7h.01M1219.9 260.7h.01M1219.9 262.1h.01M1219.9 263.8h.01M1219.9 265.3h.01M1219.9 267.1h.01M1219.9 268.4h.01M1219.9 270.2h.01M1219.9 271.8h.01M1219.9 273.5h.01M1219.9 274.8h.01M1219.9 276.6h.01M1219.9 278.1h.01M1219.9 279.5h.01M1219.9 281.1h.01M1219.9 282.9h.01M1219.9 284.2h.01M1219.9 286.3h.01M1219.9 287.4h.01M1219.9 289.0h.01M1219.9 290.6h.01M1219.9 292.7h.01M1219.9 293.9h.01M1219.9 295.4h.01M1219.9 297.0h.01M1219.9 412.2h.01M1219.9 414.1h.01M1219.9 415.4h.01M1219.9 417.4h.01M1219.9 419.0h.01M1219.9 420.6h.01M1219.9 422.1h.01M1219.9 423.6h.01M1219.9 425.2h.01M1219.9 426.8h.01M1219.9 428.7h.01M1219.9 429.8h.01M1219.9 431.9h.01M1219.9 433.0h.01M1219.9 434.7h.01M1219.9 436.3h.01M1219.9 438.3h.01M1219.9 439.6h.01M1219.9 441.2h.01M1219.9 443.1h.01M1219.9 444.3h.01M1219.9 446.0h.01M1219.9 447.7h.01M1219.9 449.4h.01M1219.9 451.0h.01M1290.4 314.2h.01M1290.4 315.7h.01M1290.4 317.3h.01M1290.4 318.6h.01M1290.4 320.4h.01M1290.4 322.2h.01M1290.4 323.6h.01M1290.4 325.0h.01M1290.4 326.8h.01M1290.4 328.6h.01M1290.4 417.8h.01M1290.4 419.6h.01M1290.4 421.4h.01M1290.4 422.9h.01M1290.4 424.5h.01M1290.4 425.9h.01M1290.4 427.6h.01M1290.4 429.2h.01M1290.4 430.9h.01M1290.4 432.3h.01M1290.4 434.1h.01M1290.4 435.9h.01M1290.4 437.0h.01M1290.4 438.9h.01M1290.4 440.6h.01M1290.4 441.9h.01M1290.4 443.6h.01M1290.4 445.5h.01M1290.4 446.5h.01M1290.4 448.4h.01M1360.9 429.4h.01M1360.9 430.8h.01M1360.9 432.8h.01M1360.9 434.1h.01M1360.9 436.0h.01M1360.9 437.3h.01M1360.9 438.9h.01M1360.9 440.5h.01M1360.9 442.2h.01M1360.9 443.6h.01M1360.9 445.1h.01M1360.9 447.1h.01M1360.9 448.5h.01M1360.9 450.0h.01M1360.9 451.7h.01M1360.9 453.4h.01M1360.9 455.0h.01M1360.9 456.7h.01M1360.9 458.3h.01M1431.3 429.4h.01M1431.3 431.0h.01M1431.3 432.7h.01M1431.3 434.4h.01M1431.3 435.7h.01M1431.3 437.4h.01M1431.3 439.3h.01M1431.3 440.3h.01M1431.3 442.3h.01M1431.3 443.9h.01M1431.3 445.1h.01M1431.3 447.1h.01M1431.3 448.7h.01M1431.3 450.5h.01M1431.3 451.7h.01M1431.3 453.7h.01M1431.3 455.0h.01M1431.3 456.6h.01M1501.8 351.1h.01M1501.8 352.7h.01M1501.8 354.1h.01M1501.8 356.0h.01M1501.8 357.3h.01M1501.8 437.6h.01M1501.8 439.2h.01M1501.8 440.7h.01M1501.8 442.1h.01M1501.8 444.0h.01M1501.8 445.6h.01M1501.8 447.0h.01M1501.8 448.5h.01M1501.8 450.1h.01M1501.8 451.8h.01M1501.8 453.3h.01M1501.8 455.0h.01M1501.8 456.7h.01M1501.8 458.5h.01M1501.8 459.5h.01M1501.8 461.4h.01M1501.8 462.7h.01M1501.8 464.4h.01" stroke="#e8391f" stroke-width="5.3" stroke-linecap="round" fill="none"/>
<path d="M1079.0 361.3h.01M1079.0 363.0h.01M1079.0 364.3h.01M1079.0 365.6h.01M1079.0 367.7h.01M1079.0 369.0h.01M1079.0 370.9h.01M1079.0 372.4h.01M1079.0 374.1h.01M1079.0 375.3h.01M1079.0 377.3h.01M1079.0 378.5h.01M1079.0 380.2h.01M1079.0 382.1h.01M1079.0 383.7h.01M1079.0 384.9h.01M1079.0 386.5h.01M1079.0 388.2h.01M1079.0 389.9h.01M1079.0 391.4h.01M1079.0 392.9h.01M1079.0 394.5h.01M1079.0 396.4h.01M1079.0 398.1h.01M1079.0 399.2h.01M1079.0 401.1h.01M1079.0 402.8h.01M1079.0 404.0h.01M1079.0 406.1h.01M1079.0 407.3h.01M1079.0 409.1h.01M1079.0 410.7h.01M1079.0 412.4h.01M1079.0 413.8h.01M1079.0 415.4h.01M1079.0 417.1h.01M1079.0 418.6h.01M1079.0 420.4h.01M1079.0 421.8h.01M1079.0 423.4h.01M1079.0 424.8h.01M1079.0 426.8h.01M1079.0 428.3h.01M1079.0 429.7h.01M1079.0 431.6h.01M1079.0 433.2h.01M1079.0 434.7h.01M1149.5 333.4h.01M1149.5 335.4h.01M1149.5 336.8h.01M1149.5 338.2h.01M1149.5 340.1h.01M1149.5 341.5h.01M1149.5 342.9h.01M1149.5 344.9h.01M1149.5 346.0h.01M1149.5 348.1h.01M1149.5 349.4h.01M1149.5 351.2h.01M1149.5 353.0h.01M1149.5 354.4h.01M1149.5 356.0h.01M1149.5 357.4h.01M1149.5 358.8h.01M1149.5 360.4h.01M1149.5 362.1h.01M1149.5 364.0h.01M1149.5 365.5h.01M1149.5 367.1h.01M1149.5 369.0h.01M1149.5 370.1h.01M1149.5 371.8h.01M1149.5 373.6h.01M1149.5 374.8h.01M1149.5 376.4h.01M1149.5 378.2h.01M1149.5 379.7h.01M1149.5 381.4h.01M1149.5 383.0h.01M1149.5 384.8h.01M1149.5 386.4h.01M1149.5 387.7h.01M1149.5 389.6h.01M1149.5 391.1h.01M1149.5 392.5h.01M1149.5 394.6h.01M1149.5 395.8h.01M1149.5 397.3h.01M1149.5 398.9h.01M1149.5 400.8h.01M1149.5 402.5h.01M1149.5 404.1h.01M1149.5 405.5h.01M1149.5 407.0h.01M1149.5 408.4h.01M1149.5 410.4h.01M1149.5 412.0h.01M1149.5 413.4h.01M1149.5 415.2h.01M1149.5 416.7h.01M1149.5 418.6h.01M1149.5 420.1h.01M1149.5 421.4h.01M1219.9 298.6h.01M1219.9 300.6h.01M1219.9 302.1h.01M1219.9 303.8h.01M1219.9 305.4h.01M1219.9 306.6h.01M1219.9 308.5h.01M1219.9 310.0h.01M1219.9 311.8h.01M1219.9 313.4h.01M1219.9 315.1h.01M1219.9 316.2h.01M1219.9 318.3h.01M1219.9 319.9h.01M1219.9 321.5h.01M1219.9 322.6h.01M1219.9 324.3h.01M1219.9 325.8h.01M1219.9 327.4h.01M1219.9 329.4h.01M1219.9 331.0h.01M1219.9 332.5h.01M1219.9 334.2h.01M1219.9 335.7h.01M1219.9 337.1h.01M1219.9 338.6h.01M1219.9 340.2h.01M1219.9 342.2h.01M1219.9 343.5h.01M1219.9 345.1h.01M1219.9 346.8h.01M1219.9 348.2h.01M1219.9 349.9h.01M1219.9 351.5h.01M1219.9 353.4h.01M1219.9 354.8h.01M1219.9 356.3h.01M1219.9 358.3h.01M1219.9 359.6h.01M1219.9 361.5h.01M1219.9 362.9h.01M1219.9 364.2h.01M1219.9 366.0h.01M1219.9 367.6h.01M1219.9 369.4h.01M1219.9 370.7h.01M1219.9 372.6h.01M1219.9 374.1h.01M1219.9 375.5h.01M1219.9 377.5h.01M1219.9 378.6h.01M1219.9 380.6h.01M1219.9 381.8h.01M1219.9 383.3h.01M1219.9 385.1h.01M1219.9 387.0h.01M1219.9 388.7h.01M1219.9 389.7h.01M1219.9 391.6h.01M1219.9 393.2h.01M1219.9 395.0h.01M1219.9 396.3h.01M1219.9 398.0h.01M1219.9 399.5h.01M1219.9 401.4h.01M1219.9 402.7h.01M1219.9 404.7h.01M1219.9 405.9h.01M1219.9 407.5h.01M1219.9 409.4h.01M1219.9 410.8h.01M1290.4 329.8h.01M1290.4 331.4h.01M1290.4 333.1h.01M1290.4 334.9h.01M1290.4 336.6h.01M1290.4 337.8h.01M1290.4 339.4h.01M1290.4 341.0h.01M1290.4 342.7h.01M1290.4 344.4h.01M1290.4 345.8h.01M1290.4 347.5h.01M1290.4 349.0h.01M1290.4 351.1h.01M1290.4 352.5h.01M1290.4 353.8h.01M1290.4 355.9h.01M1290.4 357.0h.01M1290.4 358.7h.01M1290.4 360.7h.01M1290.4 362.2h.01M1290.4 363.7h.01M1290.4 365.2h.01M1290.4 366.6h.01M1290.4 368.5h.01M1290.4 369.8h.01M1290.4 371.4h.01M1290.4 373.1h.01M1290.4 374.5h.01M1290.4 376.3h.01M1290.4 378.2h.01M1290.4 379.7h.01M1290.4 381.2h.01M1290.4 382.9h.01M1290.4 384.4h.01M1290.4 385.8h.01M1290.4 387.7h.01M1290.4 389.1h.01M1290.4 390.9h.01M1290.4 392.6h.01M1290.4 394.0h.01M1290.4 395.6h.01M1290.4 397.3h.01M1290.4 398.8h.01M1290.4 400.2h.01M1290.4 402.1h.01M1290.4 403.8h.01M1290.4 405.4h.01M1290.4 406.9h.01M1290.4 408.6h.01M1290.4 410.1h.01M1290.4 411.7h.01M1290.4 413.2h.01M1290.4 414.7h.01M1290.4 416.5h.01M1360.9 351.0h.01M1360.9 352.4h.01M1360.9 354.2h.01M1360.9 355.8h.01M1360.9 357.5h.01M1360.9 359.0h.01M1360.9 360.7h.01M1360.9 362.4h.01M1360.9 363.8h.01M1360.9 365.3h.01M1360.9 367.3h.01M1360.9 368.4h.01M1360.9 370.3h.01M1360.9 371.7h.01M1360.9 373.6h.01M1360.9 374.8h.01M1360.9 376.9h.01M1360.9 378.1h.01M1360.9 379.5h.01M1360.9 381.3h.01M1360.9 382.9h.01M1360.9 384.3h.01M1360.9 386.2h.01M1360.9 387.8h.01M1360.9 389.5h.01M1360.9 390.9h.01M1360.9 392.5h.01M1360.9 394.0h.01M1360.9 395.9h.01M1360.9 397.7h.01M1360.9 399.0h.01M1360.9 400.4h.01M1360.9 402.4h.01M1360.9 403.7h.01M1360.9 405.2h.01M1360.9 406.8h.01M1360.9 408.8h.01M1360.9 410.4h.01M1360.9 411.9h.01M1360.9 413.4h.01M1360.9 415.0h.01M1360.9 416.4h.01M1360.9 418.5h.01M1360.9 419.7h.01M1360.9 421.5h.01M1360.9 423.2h.01M1360.9 424.8h.01M1360.9 426.2h.01M1360.9 427.7h.01M1431.3 351.2h.01M1431.3 352.3h.01M1431.3 354.4h.01M1431.3 356.0h.01M1431.3 357.6h.01M1431.3 358.8h.01M1431.3 360.8h.01M1431.3 362.3h.01M1431.3 363.5h.01M1431.3 365.1h.01M1431.3 367.3h.01M1431.3 368.7h.01M1431.3 370.1h.01M1431.3 371.6h.01M1431.3 373.2h.01M1431.3 374.8h.01M1431.3 376.8h.01M1431.3 378.1h.01M1431.3 379.6h.01M1431.3 381.6h.01M1431.3 383.2h.01M1431.3 384.4h.01M1431.3 386.4h.01M1431.3 387.9h.01M1431.3 389.6h.01M1431.3 391.1h.01M1431.3 392.8h.01M1431.3 394.4h.01M1431.3 396.0h.01M1431.3 397.2h.01M1431.3 399.1h.01M1431.3 400.6h.01M1431.3 402.3h.01M1431.3 403.8h.01M1431.3 405.6h.01M1431.3 407.0h.01M1431.3 408.5h.01M1431.3 410.0h.01M1431.3 411.6h.01M1431.3 413.4h.01M1431.3 414.7h.01M1431.3 416.6h.01M1431.3 418.0h.01M1431.3 419.8h.01M1431.3 421.4h.01M1431.3 423.0h.01M1431.3 424.8h.01M1431.3 425.9h.01M1431.3 428.0h.01M1501.8 359.0h.01M1501.8 360.6h.01M1501.8 362.4h.01M1501.8 363.6h.01M1501.8 365.4h.01M1501.8 367.0h.01M1501.8 368.6h.01M1501.8 370.4h.01M1501.8 371.7h.01M1501.8 373.6h.01M1501.8 374.9h.01M1501.8 376.6h.01M1501.8 378.1h.01M1501.8 379.8h.01M1501.8 381.7h.01M1501.8 383.1h.01M1501.8 384.8h.01M1501.8 386.1h.01M1501.8 387.7h.01M1501.8 389.3h.01M1501.8 391.1h.01M1501.8 392.7h.01M1501.8 394.4h.01M1501.8 395.5h.01M1501.8 397.5h.01M1501.8 399.2h.01M1501.8 400.6h.01M1501.8 401.9h.01M1501.8 403.7h.01M1501.8 405.1h.01M1501.8 406.8h.01M1501.8 408.9h.01M1501.8 410.3h.01M1501.8 411.9h.01M1501.8 413.6h.01M1501.8 415.2h.01M1501.8 416.7h.01M1501.8 418.3h.01M1501.8 419.9h.01M1501.8 421.5h.01M1501.8 423.1h.01M1501.8 424.7h.01M1501.8 426.0h.01M1501.8 427.9h.01M1501.8 429.4h.01M1501.8 431.2h.01M1501.8 432.4h.01M1501.8 434.0h.01M1501.8 435.5h.01" stroke="#e8391f" stroke-width="5.9" stroke-linecap="round" fill="none"/>

<rect x="981.0" y="10.3" width="620.3" height="529.7" fill="none" stroke="#3c3c3c" stroke-width="1.5"/>
<path d="M1008.5 540.0v5M1121.3 540.0v5M1234.0 540.0v5M1346.8 540.0v5M1459.5 540.0v5M1572.3 540.0v5M981.0 492.5h-5M981.0 432.2h-5M981.0 371.9h-5M981.0 311.7h-5M981.0 251.4h-5M981.0 191.1h-5M981.0 130.9h-5M981.0 70.6h-5M981.0 10.3h-5" stroke="#3c3c3c" stroke-width="1.2" fill="none"/>
<g font-family='"DejaVu Sans",sans-serif' font-size="19.5" fill="#111" stroke="#111" stroke-width="0.3">
<text x="1008.5" y="564.6" text-anchor="middle">0.0</text>
<text x="1121.3" y="564.6" text-anchor="middle">0.2</text>
<text x="1234.0" y="564.6" text-anchor="middle">0.4</text>
<text x="1346.8" y="564.6" text-anchor="middle">0.6</text>
<text x="1459.5" y="564.6" text-anchor="middle">0.8</text>
<text x="1572.3" y="564.6" text-anchor="middle">1.0</text>
<text x="969.8" y="499.7" text-anchor="end">0.00</text>
<text x="969.8" y="439.4" text-anchor="end">0.25</text>
<text x="969.8" y="379.1" text-anchor="end">0.50</text>
<text x="969.8" y="318.9" text-anchor="end">0.75</text>
<text x="969.8" y="258.6" text-anchor="end">1.00</text>
<text x="969.8" y="198.3" text-anchor="end">1.25</text>
<text x="969.8" y="138.1" text-anchor="end">1.50</text>
<text x="969.8" y="77.8" text-anchor="end">1.75</text>
<text x="969.8" y="17.5" text-anchor="end">2.00</text>
</g>
<rect x="1262" y="11" width="338.6" height="301.5" fill="#fff"/><rect x="1314" y="300" width="286.6" height="50" fill="#fff"/>
<rect x="1334.7" y="25.2" width="246.5" height="261.6" fill="#fff" stroke="#8c8c8c" stroke-width="1.6"/><path d="M1334.7 286.8L1581.2 25.2" stroke="#222" stroke-width="1.2" stroke-dasharray="4.2 1.6"/><path d="M1371.4 248.2h.01M1365.8 257.9h.01M1387.2 233.9h.01M1385.9 244.5h.01M1366.8 259.6h.01M1377.9 248.1h.01M1391.9 226.6h.01M1385.5 216.7h.01M1364.6 246.0h.01M1388.5 228.9h.01M1366.6 256.7h.01M1369.2 240.8h.01M1389.7 230.6h.01M1375.2 243.7h.01M1381.3 246.1h.01M1368.6 247.3h.01M1387.9 236.3h.01M1382.9 228.8h.01M1376.6 250.6h.01M1392.2 218.5h.01M1387.5 235.5h.01M1366.1 255.6h.01M1393.1 228.2h.01M1374.1 256.2h.01M1382.2 224.7h.01M1382.1 238.2h.01M1373.4 257.6h.01M1375.4 237.9h.01M1384.5 244.6h.01M1388.2 238.0h.01M1412.5 200.6h.01M1415.6 200.9h.01M1419.2 193.2h.01M1407.1 218.9h.01M1424.7 187.7h.01M1418.9 206.2h.01M1412.3 199.4h.01M1421.4 201.7h.01M1426.5 190.6h.01M1418.5 196.3h.01M1423.9 189.8h.01M1426.9 181.5h.01M1411.4 211.0h.01M1416.5 204.4h.01M1410.8 206.3h.01M1423.7 184.4h.01M1416.4 192.8h.01M1423.3 188.3h.01M1442.8 180.9h.01M1455.7 163.2h.01M1448.5 172.2h.01M1442.0 172.0h.01M1442.0 169.8h.01M1445.4 162.7h.01M1449.4 169.8h.01M1441.2 170.5h.01M1439.1 171.4h.01M1440.3 174.8h.01M1450.7 163.0h.01M1450.0 167.1h.01M1445.0 170.7h.01M1438.9 176.3h.01M1489.7 119.2h.01M1478.3 137.8h.01M1470.0 142.5h.01M1488.5 127.6h.01M1483.7 124.5h.01M1469.8 152.6h.01M1340.4 280.5h.01M1341.3 278.9h.01M1340.6 283.5h.01M1348.7 273.1h.01M1358.3 261.3h.01M1351.4 269.4h.01M1527.0 77.5h.01M1531.9 82.8h.01M1524.5 88.0h.01M1519.6 98.4h.01M1531.9 101.1h.01M1507.2 101.1h.01M1509.7 112.8h.01M1497.4 112.8h.01M1384.0 209.6h.01M1418.5 220.1h.01M1371.7 264.6h.01M1352.0 263.3h.01M1369.2 237.1h.01M1453.0 144.2h.01M1480.1 128.5h.01" stroke="#1226ee" stroke-width="3.6" stroke-linecap="round" fill="none"/><path d="M1334.7 286.8v3M1384.0 286.8v3M1433.3 286.8v3M1482.6 286.8v3M1531.9 286.8v3M1581.2 286.8v3M1334.7 286.8h-3M1334.7 234.5h-3M1334.7 182.2h-3M1334.7 129.8h-3M1334.7 77.5h-3M1334.7 25.2h-3" stroke="#444" stroke-width="1" fill="none"/><g font-family='"DejaVu Sans",sans-serif' font-size="15" fill="#111"><text x="1334.7" y="303.0" text-anchor="middle" textLength="23.9" lengthAdjust="spacingAndGlyphs">0.0</text><text x="1384.0" y="303.0" text-anchor="middle" textLength="23.9" lengthAdjust="spacingAndGlyphs">0.2</text><text x="1433.3" y="303.0" text-anchor="middle" textLength="23.9" lengthAdjust="spacingAndGlyphs">0.4</text><text x="1482.6" y="303.0" text-anchor="middle" textLength="23.9" lengthAdjust="spacingAndGlyphs">0.6</text><text x="1531.9" y="303.0" text-anchor="middle" textLength="23.9" lengthAdjust="spacingAndGlyphs">0.8</text><text x="1581.2" y="303.0" text-anchor="middle" textLength="23.9" lengthAdjust="spacingAndGlyphs">1.0</text><text x="1331.3" y="292.4" text-anchor="end" textLength="27.0" lengthAdjust="spacingAndGlyphs">0.0</text><text x="1331.3" y="240.0" text-anchor="end" textLength="27.0" lengthAdjust="spacingAndGlyphs">0.2</text><text x="1331.3" y="187.7" text-anchor="end" textLength="27.0" lengthAdjust="spacingAndGlyphs">0.4</text><text x="1331.3" y="135.4" text-anchor="end" textLength="27.0" lengthAdjust="spacingAndGlyphs">0.6</text><text x="1331.3" y="83.1" text-anchor="end" textLength="27.0" lengthAdjust="spacingAndGlyphs">0.8</text><text x="1331.3" y="30.7" text-anchor="end" textLength="27.0" lengthAdjust="spacingAndGlyphs">1.0</text></g>
<rect x="986.0" y="16.5" width="77.5" height="66.0" fill="#fff" stroke="#222" stroke-width="1.3"/><circle cx="1001.0" cy="38.1" r="8.5" fill="none" stroke="#1430f0" stroke-width="1.8"/><ellipse cx="1002.0" cy="61.8" rx="6.3" ry="7.3" fill="#e8391f"/><g font-family='"DejaVu Sans",sans-serif' fill="#111"><text x="1011.15" y="43.00" font-size="21.50" textLength="35.63" lengthAdjust="spacingAndGlyphs">DFT</text></g><g font-family='"DejaVu Sans",sans-serif' fill="#111"><text x="1011.83" y="69.10" font-size="21.50" textLength="25.95" lengthAdjust="spacingAndGlyphs">CE</text></g>
<g transform="translate(1291.80 283.30) rotate(-90)"><g font-family='"Liberation Sans",sans-serif' fill="#000" stroke="#000" stroke-width="0.5"><text x="-1.36" y="0.00" font-size="30.80" textLength="238.20" lengthAdjust="spacingAndGlyphs">CE Mixing Enthalpy</text></g></g>
<g font-family='"Liberation Sans",sans-serif' fill="#000" stroke="#000" stroke-width="0.5"><text x="1320.37" y="336.80" font-size="28.00" textLength="257.67" lengthAdjust="spacingAndGlyphs">DFT Mixing Enthalpy</text></g>
<g font-family='"Liberation Sans",sans-serif' fill="#000" stroke="#000" stroke-width="0.5"><text x="1359.99" y="48.80" font-size="22.20" textLength="71.58" lengthAdjust="spacingAndGlyphs">RMSE:</text></g>
<g font-family='"Liberation Sans",sans-serif' fill="#000" stroke="#000" stroke-width="0.5"><text x="1367.73" y="74.00" font-size="22.20" textLength="55.10" lengthAdjust="spacingAndGlyphs" font-weight="bold">0.029</text></g>
<g font-family='"Liberation Sans",sans-serif' fill="#000" stroke="#000" stroke-width="0.5"><text x="1344.11" y="101.50" font-size="22.20" textLength="102.82" lengthAdjust="spacingAndGlyphs">eV/unitcell</text></g>
<g transform="translate(903.30 550.40) rotate(-90)"><g font-family='"Liberation Sans",sans-serif' fill="#000" stroke="#000" stroke-width="0.5"><text x="-2.65" y="0.00" font-size="35.50" textLength="550.66" lengthAdjust="spacingAndGlyphs">Mixing Enthalpy (eV/primitive unitcell)</text></g></g>
<g font-family='"Liberation Sans",sans-serif' fill="#000" stroke="#000" stroke-width="0.5"><text x="944.63" y="611.90" font-size="30.50" textLength="65.82" lengthAdjust="spacingAndGlyphs">MgIn</text><text x="1010.45" y="616.48" font-size="20.13" textLength="10.87" lengthAdjust="spacingAndGlyphs">2</text><text x="1021.32" y="611.90" font-size="30.50" textLength="23.03" lengthAdjust="spacingAndGlyphs">O</text><text x="1044.34" y="616.48" font-size="20.13" textLength="10.87" lengthAdjust="spacingAndGlyphs">4</text></g>
<g font-family='"Liberation Sans",sans-serif' fill="#000" stroke="#000" stroke-width="0.5"><text x="946.70" y="649.30" font-size="30.50" textLength="118.31" lengthAdjust="spacingAndGlyphs">(Inverse)</text></g>
<g font-family='"Liberation Sans",sans-serif' fill="#000" stroke="#000" stroke-width="0.5"><text x="1167.84" y="605.10" font-size="34.00" textLength="184.74" lengthAdjust="spacingAndGlyphs">Composition</text><text x="1361.81" y="605.10" font-size="34.00" textLength="16.62" lengthAdjust="spacingAndGlyphs" font-style="italic">x</text><text x="1387.66" y="605.10" font-size="34.00" textLength="25.87" lengthAdjust="spacingAndGlyphs">in</text></g>
<g font-family='"Liberation Sans",sans-serif' fill="#000" stroke="#000" stroke-width="0.5"><text x="1177.92" y="645.60" font-size="34.00" textLength="102.41" lengthAdjust="spacingAndGlyphs">Mg(Ga</text><text x="1280.33" y="651.72" font-size="21.42" textLength="10.55" lengthAdjust="spacingAndGlyphs">x</text><text x="1290.88" y="645.60" font-size="34.00" textLength="27.94" lengthAdjust="spacingAndGlyphs">In</text><text x="1318.82" y="651.72" font-size="21.42" textLength="29.33" lengthAdjust="spacingAndGlyphs">1-x</text><text x="1348.15" y="645.60" font-size="34.00" textLength="11.16" lengthAdjust="spacingAndGlyphs">)</text><text x="1359.31" y="651.72" font-size="21.42" textLength="11.74" lengthAdjust="spacingAndGlyphs">2</text><text x="1371.05" y="645.60" font-size="34.00" textLength="26.06" lengthAdjust="spacingAndGlyphs">O</text><text x="1397.11" y="651.72" font-size="21.42" textLength="11.74" lengthAdjust="spacingAndGlyphs">4</text></g>
<g font-family='"Liberation Sans",sans-serif' fill="#000" stroke="#000" stroke-width="0.5"><text x="1517.55" y="608.70" font-size="30.50" textLength="80.09" lengthAdjust="spacingAndGlyphs">MgGa</text><text x="1597.64" y="613.28" font-size="20.13" textLength="10.80" lengthAdjust="spacingAndGlyphs">2</text><text x="1608.44" y="608.70" font-size="30.50" textLength="22.88" lengthAdjust="spacingAndGlyphs">O</text><text x="1631.31" y="613.28" font-size="20.13" textLength="10.80" lengthAdjust="spacingAndGlyphs">4</text></g>
<g font-family='"Liberation Sans",sans-serif' fill="#000" stroke="#000" stroke-width="0.5"><text x="1514.61" y="649.30" font-size="30.50" textLength="117.80" lengthAdjust="spacingAndGlyphs">(Inverse)</text></g>
<text x="832" y="39.9" font-family='"Liberation Sans",sans-serif' font-size="43" stroke="#000" stroke-width="0.8">b</text>
<path d="M182.5 1186.3L465.0 1248.0L182.5 1191.6L465.0 1248.0L747.5 1191.6" fill="none" stroke="#1020e8" stroke-width="1.8" stroke-linejoin="round"/><path d="M465.0 1248L747.5 1191.6" stroke="#1020e8" stroke-width="2.4"/><circle cx="182.5" cy="1191.6" r="3.6" fill="#1020e8"/><circle cx="465.0" cy="1248" r="3.6" fill="#1020e8"/><circle cx="747.5" cy="1191.6" r="3.6" fill="#1020e8"/>
<g fill="none" stroke="#1430f0" stroke-width="1.2"><circle cx="182.5" cy="929.6" r="3.3"/><circle cx="182.5" cy="1018.9" r="3.3"/><circle cx="182.5" cy="1032.2" r="3.3"/><circle cx="182.5" cy="1058.6" r="3.3"/><circle cx="182.5" cy="1102.4" r="3.3"/><circle cx="182.5" cy="1134.4" r="3.3"/><circle cx="182.5" cy="1143.8" r="3.3"/><circle cx="182.5" cy="1157.0" r="3.3"/><circle cx="182.5" cy="1168.0" r="3.3"/><circle cx="182.5" cy="1172.0" r="3.3"/><circle cx="182.5" cy="1180.3" r="3.3"/><circle cx="323.8" cy="906.5" r="3.3"/><circle cx="323.8" cy="1028.2" r="3.3"/><circle cx="323.8" cy="1052.5" r="3.3"/><circle cx="323.8" cy="1058.6" r="3.3"/><circle cx="323.8" cy="1095.0" r="3.3"/><circle cx="323.8" cy="1119.4" r="3.3"/><circle cx="323.8" cy="1143.8" r="3.3"/><circle cx="323.8" cy="1160.0" r="3.3"/><circle cx="323.8" cy="1164.0" r="3.3"/><circle cx="394.4" cy="959.3" r="3.3"/><circle cx="394.4" cy="991.7" r="3.3"/><circle cx="394.4" cy="1010.0" r="3.3"/><circle cx="394.4" cy="1040.4" r="3.3"/><circle cx="394.4" cy="1056.6" r="3.3"/><circle cx="394.4" cy="1064.0" r="3.3"/><circle cx="394.4" cy="1072.8" r="3.3"/><circle cx="394.4" cy="1087.0" r="3.3"/><circle cx="394.4" cy="1097.0" r="3.3"/><circle cx="394.4" cy="1119.4" r="3.3"/><circle cx="394.4" cy="1128.0" r="3.3"/><circle cx="394.4" cy="1137.0" r="3.3"/><circle cx="394.4" cy="1146.0" r="3.3"/><circle cx="394.4" cy="1153.0" r="3.3"/><circle cx="394.4" cy="1160.0" r="3.3"/><circle cx="465.0" cy="1050.0" r="3.3"/><circle cx="465.0" cy="1062.0" r="3.3"/><circle cx="465.0" cy="1075.0" r="3.3"/><circle cx="465.0" cy="1090.0" r="3.3"/><circle cx="465.0" cy="1101.0" r="3.3"/><circle cx="465.0" cy="1115.0" r="3.3"/><circle cx="465.0" cy="1128.0" r="3.3"/><circle cx="465.0" cy="1140.0" r="3.3"/><circle cx="465.0" cy="1152.0" r="3.3"/><circle cx="465.0" cy="1163.0" r="3.3"/><circle cx="465.0" cy="1177.0" r="3.3"/><circle cx="465.0" cy="1193.6" r="3.3"/><circle cx="535.6" cy="1069.0" r="3.3"/><circle cx="535.6" cy="1083.0" r="3.3"/><circle cx="535.6" cy="1104.0" r="3.3"/><circle cx="535.6" cy="1122.0" r="3.3"/><circle cx="535.6" cy="1133.0" r="3.3"/><circle cx="535.6" cy="1146.0" r="3.3"/><circle cx="535.6" cy="1162.0" r="3.3"/><circle cx="535.6" cy="1168.0" r="3.3"/><circle cx="535.6" cy="1197.0" r="3.3"/><circle cx="606.2" cy="1069.0" r="3.3"/><circle cx="606.2" cy="1092.0" r="3.3"/><circle cx="606.2" cy="1098.0" r="3.3"/><circle cx="606.2" cy="1105.0" r="3.3"/><circle cx="606.2" cy="1110.0" r="3.3"/><circle cx="606.2" cy="1127.0" r="3.3"/><circle cx="606.2" cy="1150.0" r="3.3"/><circle cx="606.2" cy="1152.0" r="3.3"/><circle cx="606.2" cy="1160.0" r="3.3"/><circle cx="676.9" cy="1071.0" r="3.3"/><circle cx="676.9" cy="1074.0" r="3.3"/><circle cx="676.9" cy="1077.0" r="3.3"/><circle cx="676.9" cy="1086.8" r="3.3"/><circle cx="676.9" cy="1105.8" r="3.3"/><circle cx="747.5" cy="1065.3" r="3.3"/><circle cx="747.5" cy="1074.0" r="3.3"/><circle cx="747.5" cy="1077.0" r="3.3"/><circle cx="747.5" cy="1090.2" r="3.3"/><circle cx="747.5" cy="1099.8" r="3.3"/></g>
<path d="M182.5 1009.9h.01M182.5 1013.9h.01M182.5 1018.5h.01M182.5 1022.2h.01M182.5 1026.5h.01M182.5 1030.6h.01M182.5 1034.9h.01M182.5 1038.8h.01M182.5 1051.9h.01M182.5 1056.1h.01M182.5 1060.0h.01M182.5 1064.6h.01M182.5 1068.7h.01M182.5 1072.4h.01M182.5 1089.7h.01M182.5 1094.0h.01M182.5 1098.1h.01M182.5 1102.6h.01M182.5 1106.7h.01M182.5 1110.7h.01M182.5 1129.7h.01M182.5 1134.3h.01M182.5 1138.3h.01M182.5 1142.4h.01M182.5 1146.7h.01M182.5 1159.7h.01M182.5 1163.9h.01M182.5 1168.4h.01M182.5 1172.6h.01M182.5 1176.5h.01M182.5 1180.4h.01M182.5 1184.7h.01M182.5 922.8h.01M182.5 943.0h.01M182.5 980.3h.01M182.5 1046.0h.01M182.5 1083.0h.01M182.5 1120.0h.01M182.5 1155.0h.01M253.1 923.0h.01M253.1 924.7h.01M253.1 927.0h.01M253.1 929.1h.01M253.1 931.2h.01M253.1 933.6h.01M253.1 935.6h.01M253.1 937.8h.01M253.1 939.9h.01M253.1 942.3h.01M253.1 944.1h.01M253.1 946.7h.01M253.1 948.5h.01M253.1 950.6h.01M253.1 953.3h.01M253.1 955.0h.01M253.1 957.6h.01M253.1 959.7h.01M253.1 961.9h.01M253.1 963.6h.01M253.1 966.0h.01M253.1 967.9h.01M253.1 970.6h.01M253.1 972.7h.01M253.1 974.7h.01M253.1 976.8h.01M253.1 978.9h.01M253.1 981.3h.01M253.1 983.3h.01M253.1 985.5h.01M253.1 987.4h.01M253.1 989.6h.01M253.1 991.7h.01M253.1 1176.2h.01M253.1 1178.7h.01M253.1 1180.8h.01M253.1 808.4h.01M253.1 824.6h.01M253.1 855.9h.01M253.1 876.0h.01M253.1 881.0h.01M253.1 886.0h.01M253.1 893.0h.01M253.1 900.0h.01M253.1 908.6h.01M253.1 915.0h.01M253.1 1188.4h.01M323.8 859.9h.01M323.8 862.2h.01M323.8 864.0h.01M323.8 866.6h.01M323.8 868.7h.01M323.8 870.4h.01M323.8 872.6h.01M323.8 875.0h.01M323.8 877.2h.01M323.8 879.2h.01M323.8 881.3h.01M323.8 883.6h.01M323.8 885.6h.01M323.8 888.0h.01M323.8 890.4h.01M323.8 892.1h.01M323.8 894.5h.01M323.8 896.8h.01M323.8 898.6h.01M323.8 901.1h.01M323.8 903.4h.01M323.8 905.2h.01M323.8 907.4h.01M323.8 909.8h.01M323.8 911.8h.01M323.8 913.8h.01M323.8 916.3h.01M323.8 918.4h.01M323.8 920.3h.01M323.8 922.4h.01M323.8 924.6h.01M323.8 926.8h.01M323.8 929.3h.01M323.8 931.4h.01M323.8 933.6h.01M323.8 935.7h.01M323.8 937.9h.01M323.8 939.6h.01M323.8 942.0h.01M323.8 944.4h.01M323.8 946.6h.01M323.8 948.3h.01M323.8 1184.5h.01M323.8 1186.4h.01M323.8 1188.6h.01M323.8 1190.8h.01M323.8 773.5h.01M323.8 782.9h.01M323.8 787.0h.01M323.8 792.0h.01M323.8 799.0h.01M323.8 806.0h.01M323.8 815.3h.01M323.8 840.8h.01M323.8 846.0h.01M323.8 851.0h.01M323.8 1196.5h.01M323.8 1204.6h.01M394.4 758.4h.01M394.4 760.6h.01M394.4 762.9h.01M394.4 764.9h.01M394.4 767.4h.01M394.4 769.4h.01M394.4 771.5h.01M394.4 773.4h.01M394.4 775.7h.01M394.4 777.9h.01M394.4 780.1h.01M394.4 782.3h.01M394.4 784.6h.01M394.4 786.9h.01M394.4 788.7h.01M394.4 790.9h.01M394.4 793.1h.01M394.4 795.5h.01M394.4 797.3h.01M394.4 799.6h.01M394.4 801.9h.01M394.4 803.7h.01M394.4 805.9h.01M394.4 833.8h.01M394.4 835.9h.01M394.4 837.8h.01M394.4 839.7h.01M394.4 842.4h.01M394.4 844.4h.01M394.4 846.7h.01M394.4 848.9h.01M394.4 851.0h.01M394.4 852.9h.01M394.4 854.9h.01M394.4 857.1h.01M394.4 859.4h.01M394.4 861.6h.01M394.4 863.6h.01M394.4 865.7h.01M394.4 868.1h.01M394.4 870.3h.01M394.4 872.3h.01M394.4 1177.1h.01M394.4 1179.3h.01M394.4 1181.1h.01M394.4 1183.1h.01M394.4 1185.8h.01M394.4 1187.8h.01M394.4 756.5h.01M394.4 813.3h.01M394.4 823.4h.01M394.4 828.0h.01M394.4 1193.0h.01M394.4 1198.5h.01M394.4 1205.4h.01M394.4 1219.6h.01M465.0 1177.0h.01M465.0 1179.0h.01M465.0 1181.3h.01M465.0 1183.2h.01M465.0 1193.6h.01M465.0 1202.6h.01M465.0 1198.0h.01M465.0 730.5h.01M465.0 1248.0h.01M535.6 1171.8h.01M535.6 1173.9h.01M535.6 1175.9h.01M535.6 1181.5h.01M535.6 1190.6h.01M535.6 1200.0h.01M606.2 1155.6h.01M606.2 1158.3h.01M606.2 1160.3h.01M606.2 1165.0h.01M606.2 1169.0h.01M606.2 1173.0h.01M606.2 1177.0h.01M606.2 1181.5h.01M606.2 1189.0h.01M676.9 1110.8h.01M676.9 1113.1h.01M676.9 1121.7h.01M676.9 1135.8h.01M676.9 1139.0h.01M676.9 1142.0h.01M676.9 1145.0h.01M676.9 1151.0h.01M676.9 1157.0h.01M676.9 1160.0h.01M676.9 1174.4h.01M676.9 1177.0h.01M676.9 1179.4h.01M747.5 1064.9h.01M747.5 1071.0h.01M747.5 1074.0h.01M747.5 1091.2h.01M747.5 1099.4h.01M747.5 1104.4h.01M747.5 1107.5h.01M747.5 1110.5h.01M747.5 1123.0h.01M747.5 1191.6h.01" stroke="#e8391f" stroke-width="4.0" stroke-linecap="round" fill="none"/>
<path d="M253.1 994.2h.01M253.1 995.7h.01M253.1 997.1h.01M253.1 999.1h.01M253.1 1000.3h.01M253.1 1002.0h.01M253.1 1003.5h.01M253.1 1005.1h.01M253.1 1007.1h.01M253.1 1008.4h.01M253.1 1009.9h.01M253.1 1011.7h.01M253.1 1013.2h.01M253.1 1015.1h.01M253.1 1016.2h.01M253.1 1018.4h.01M253.1 1019.4h.01M253.1 1021.5h.01M253.1 1023.0h.01M253.1 1024.3h.01M253.1 1026.1h.01M253.1 1027.6h.01M253.1 1029.1h.01M253.1 1138.3h.01M253.1 1139.9h.01M253.1 1141.2h.01M253.1 1143.0h.01M253.1 1144.4h.01M253.1 1146.2h.01M253.1 1147.4h.01M253.1 1149.5h.01M253.1 1151.2h.01M253.1 1152.5h.01M253.1 1154.1h.01M253.1 1155.7h.01M253.1 1157.3h.01M253.1 1158.6h.01M253.1 1160.8h.01M253.1 1161.9h.01M253.1 1163.5h.01M253.1 1165.0h.01M253.1 1166.7h.01M253.1 1168.7h.01M253.1 1169.8h.01M253.1 1171.4h.01M253.1 1173.4h.01M253.1 1174.7h.01M323.8 950.6h.01M323.8 952.3h.01M323.8 953.7h.01M323.8 955.4h.01M323.8 956.8h.01M323.8 958.6h.01M323.8 960.2h.01M323.8 961.5h.01M323.8 963.2h.01M323.8 965.3h.01M323.8 966.8h.01M323.8 968.5h.01M323.8 969.9h.01M323.8 971.6h.01M323.8 973.3h.01M323.8 974.9h.01M323.8 975.9h.01M323.8 977.9h.01M323.8 979.3h.01M323.8 981.1h.01M323.8 982.5h.01M323.8 984.2h.01M323.8 986.1h.01M323.8 987.5h.01M323.8 988.9h.01M323.8 990.6h.01M323.8 992.2h.01M323.8 994.1h.01M323.8 995.3h.01M323.8 996.9h.01M323.8 1136.1h.01M323.8 1137.8h.01M323.8 1139.5h.01M323.8 1141.0h.01M323.8 1142.5h.01M323.8 1144.4h.01M323.8 1146.0h.01M323.8 1147.4h.01M323.8 1149.0h.01M323.8 1150.4h.01M323.8 1152.1h.01M323.8 1153.6h.01M323.8 1155.5h.01M323.8 1157.1h.01M323.8 1158.4h.01M323.8 1160.5h.01M323.8 1161.7h.01M323.8 1163.6h.01M323.8 1165.2h.01M323.8 1166.9h.01M323.8 1168.0h.01M323.8 1169.8h.01M323.8 1171.7h.01M323.8 1172.7h.01M323.8 1174.3h.01M323.8 1176.3h.01M323.8 1177.8h.01M323.8 1179.7h.01M323.8 1181.2h.01M323.8 1182.6h.01M394.4 874.8h.01M394.4 876.2h.01M394.4 877.5h.01M394.4 879.3h.01M394.4 881.1h.01M394.4 882.4h.01M394.4 884.3h.01M394.4 885.4h.01M394.4 887.2h.01M394.4 889.1h.01M394.4 890.6h.01M394.4 892.2h.01M394.4 893.6h.01M394.4 895.3h.01M394.4 897.0h.01M394.4 898.4h.01M394.4 900.2h.01M394.4 901.8h.01M394.4 903.6h.01M394.4 905.0h.01M394.4 906.5h.01M394.4 907.9h.01M394.4 909.5h.01M394.4 911.5h.01M394.4 912.7h.01M394.4 914.3h.01M394.4 915.9h.01M394.4 917.8h.01M394.4 919.5h.01M394.4 921.0h.01M394.4 922.7h.01M394.4 923.9h.01M394.4 925.4h.01M394.4 927.5h.01M394.4 928.8h.01M394.4 930.7h.01M394.4 932.1h.01M394.4 933.5h.01M394.4 935.2h.01M394.4 1114.7h.01M394.4 1116.4h.01M394.4 1118.0h.01M394.4 1119.1h.01M394.4 1120.8h.01M394.4 1122.3h.01M394.4 1124.2h.01M394.4 1125.8h.01M394.4 1127.3h.01M394.4 1128.9h.01M394.4 1130.6h.01M394.4 1132.3h.01M394.4 1133.6h.01M394.4 1135.5h.01M394.4 1136.9h.01M394.4 1138.6h.01M394.4 1139.9h.01M394.4 1141.5h.01M394.4 1143.6h.01M394.4 1145.1h.01M394.4 1146.7h.01M394.4 1147.9h.01M394.4 1149.5h.01M394.4 1151.1h.01M394.4 1152.8h.01M394.4 1154.4h.01M394.4 1156.1h.01M394.4 1157.5h.01M394.4 1159.2h.01M394.4 1161.0h.01M394.4 1162.3h.01M394.4 1164.3h.01M394.4 1165.8h.01M394.4 1167.5h.01M394.4 1168.8h.01M394.4 1170.5h.01M394.4 1172.3h.01M394.4 1173.6h.01M394.4 1175.0h.01M465.0 1135.6h.01M465.0 1137.2h.01M465.0 1138.4h.01M465.0 1140.1h.01M465.0 1141.7h.01M465.0 1143.2h.01M465.0 1144.7h.01M465.0 1146.5h.01M465.0 1148.0h.01M465.0 1149.9h.01M465.0 1151.4h.01M465.0 1152.8h.01M465.0 1154.5h.01M465.0 1156.2h.01M465.0 1157.7h.01M465.0 1159.2h.01M465.0 1160.7h.01M465.0 1162.3h.01M465.0 1164.5h.01M465.0 1166.0h.01M465.0 1167.2h.01M465.0 1169.1h.01M465.0 1170.9h.01M465.0 1172.2h.01M465.0 1173.6h.01M465.0 1175.4h.01M535.6 1137.9h.01M535.6 1139.8h.01M535.6 1141.2h.01M535.6 1143.1h.01M535.6 1144.3h.01M535.6 1146.4h.01M535.6 1148.0h.01M535.6 1149.6h.01M535.6 1151.0h.01M535.6 1152.5h.01M535.6 1154.3h.01M535.6 1155.8h.01M535.6 1157.4h.01M535.6 1158.9h.01M535.6 1160.6h.01M535.6 1162.3h.01M535.6 1164.0h.01M535.6 1165.6h.01M535.6 1166.8h.01M535.6 1168.5h.01M535.6 1170.2h.01M606.2 1130.1h.01M606.2 1131.8h.01M606.2 1133.4h.01M606.2 1134.8h.01M606.2 1136.6h.01M606.2 1138.0h.01M606.2 1139.8h.01M606.2 1141.5h.01M606.2 1142.7h.01M606.2 1144.5h.01M606.2 1145.9h.01M606.2 1147.8h.01M606.2 1149.6h.01M606.2 1151.0h.01M606.2 1152.7h.01M606.2 1154.4h.01M676.9 1096.6h.01M676.9 1098.5h.01M676.9 1100.0h.01M676.9 1101.2h.01M676.9 1103.1h.01M676.9 1104.5h.01M676.9 1106.4h.01M676.9 1107.9h.01M676.9 1109.6h.01" stroke="#e8391f" stroke-width="4.5" stroke-linecap="round" fill="none"/>
<path d="M253.1 1030.7h.01M253.1 1032.4h.01M253.1 1034.4h.01M253.1 1036.0h.01M253.1 1037.5h.01M253.1 1038.6h.01M253.1 1040.4h.01M253.1 1042.3h.01M253.1 1043.4h.01M253.1 1045.4h.01M253.1 1046.8h.01M253.1 1048.8h.01M253.1 1049.8h.01M253.1 1051.9h.01M253.1 1053.2h.01M253.1 1054.7h.01M253.1 1056.2h.01M253.1 1058.3h.01M253.1 1059.7h.01M253.1 1061.1h.01M253.1 1062.8h.01M253.1 1064.7h.01M253.1 1065.9h.01M253.1 1067.7h.01M253.1 1069.1h.01M253.1 1070.7h.01M253.1 1072.6h.01M253.1 1074.2h.01M253.1 1075.5h.01M253.1 1077.0h.01M253.1 1078.6h.01M253.1 1080.5h.01M253.1 1082.1h.01M253.1 1083.5h.01M253.1 1085.1h.01M253.1 1086.9h.01M253.1 1088.6h.01M253.1 1090.3h.01M253.1 1091.7h.01M253.1 1093.1h.01M253.1 1094.6h.01M253.1 1096.6h.01M253.1 1098.0h.01M253.1 1099.8h.01M253.1 1101.0h.01M253.1 1103.1h.01M253.1 1104.4h.01M253.1 1106.3h.01M253.1 1107.9h.01M253.1 1109.3h.01M253.1 1110.6h.01M253.1 1112.7h.01M253.1 1114.1h.01M253.1 1115.9h.01M253.1 1117.1h.01M253.1 1118.7h.01M253.1 1120.7h.01M253.1 1122.0h.01M253.1 1123.5h.01M253.1 1125.2h.01M253.1 1126.9h.01M253.1 1128.2h.01M253.1 1130.1h.01M253.1 1131.6h.01M253.1 1133.3h.01M253.1 1134.7h.01M253.1 1136.6h.01M323.8 998.7h.01M323.8 1000.0h.01M323.8 1001.9h.01M323.8 1003.7h.01M323.8 1005.0h.01M323.8 1006.5h.01M323.8 1008.2h.01M323.8 1009.8h.01M323.8 1011.2h.01M323.8 1012.8h.01M323.8 1014.4h.01M323.8 1016.1h.01M323.8 1017.8h.01M323.8 1019.3h.01M323.8 1020.9h.01M323.8 1022.4h.01M323.8 1024.2h.01M323.8 1026.0h.01M323.8 1027.5h.01M323.8 1029.1h.01M323.8 1030.7h.01M323.8 1032.0h.01M323.8 1033.9h.01M323.8 1035.4h.01M323.8 1037.0h.01M323.8 1038.7h.01M323.8 1040.2h.01M323.8 1041.7h.01M323.8 1043.3h.01M323.8 1044.9h.01M323.8 1046.6h.01M323.8 1048.1h.01M323.8 1049.9h.01M323.8 1051.1h.01M323.8 1052.9h.01M323.8 1054.8h.01M323.8 1056.1h.01M323.8 1057.9h.01M323.8 1059.4h.01M323.8 1060.9h.01M323.8 1062.9h.01M323.8 1064.1h.01M323.8 1066.0h.01M323.8 1067.2h.01M323.8 1068.8h.01M323.8 1070.8h.01M323.8 1072.2h.01M323.8 1073.6h.01M323.8 1075.4h.01M323.8 1077.0h.01M323.8 1078.8h.01M323.8 1080.0h.01M323.8 1081.7h.01M323.8 1083.7h.01M323.8 1085.2h.01M323.8 1086.4h.01M323.8 1088.1h.01M323.8 1089.7h.01M323.8 1091.5h.01M323.8 1093.1h.01M323.8 1094.8h.01M323.8 1096.4h.01M323.8 1097.8h.01M323.8 1099.6h.01M323.8 1101.2h.01M323.8 1102.8h.01M323.8 1104.2h.01M323.8 1106.0h.01M323.8 1107.5h.01M323.8 1109.3h.01M323.8 1110.4h.01M323.8 1112.4h.01M323.8 1113.5h.01M323.8 1115.6h.01M323.8 1117.1h.01M323.8 1118.6h.01M323.8 1120.5h.01M323.8 1121.9h.01M323.8 1123.4h.01M323.8 1125.2h.01M323.8 1126.8h.01M323.8 1128.3h.01M323.8 1129.7h.01M323.8 1131.4h.01M323.8 1133.0h.01M323.8 1134.8h.01M394.4 936.7h.01M394.4 938.8h.01M394.4 940.2h.01M394.4 941.6h.01M394.4 943.3h.01M394.4 944.9h.01M394.4 946.3h.01M394.4 948.4h.01M394.4 949.8h.01M394.4 951.6h.01M394.4 952.9h.01M394.4 954.6h.01M394.4 956.0h.01M394.4 957.5h.01M394.4 959.6h.01M394.4 961.2h.01M394.4 962.4h.01M394.4 964.4h.01M394.4 965.9h.01M394.4 967.2h.01M394.4 969.0h.01M394.4 970.8h.01M394.4 972.1h.01M394.4 974.0h.01M394.4 975.2h.01M394.4 976.9h.01M394.4 978.7h.01M394.4 980.0h.01M394.4 981.6h.01M394.4 983.6h.01M394.4 984.9h.01M394.4 986.7h.01M394.4 988.0h.01M394.4 989.5h.01M394.4 991.3h.01M394.4 992.8h.01M394.4 994.8h.01M394.4 996.0h.01M394.4 997.8h.01M394.4 999.1h.01M394.4 1001.0h.01M394.4 1002.5h.01M394.4 1004.1h.01M394.4 1005.5h.01M394.4 1007.1h.01M394.4 1009.1h.01M394.4 1010.5h.01M394.4 1012.0h.01M394.4 1013.6h.01M394.4 1015.2h.01M394.4 1016.8h.01M394.4 1018.3h.01M394.4 1020.2h.01M394.4 1021.6h.01M394.4 1023.1h.01M394.4 1025.1h.01M394.4 1026.3h.01M394.4 1028.0h.01M394.4 1029.9h.01M394.4 1031.1h.01M394.4 1032.9h.01M394.4 1034.7h.01M394.4 1036.3h.01M394.4 1037.5h.01M394.4 1039.3h.01M394.4 1041.1h.01M394.4 1042.5h.01M394.4 1044.4h.01M394.4 1045.6h.01M394.4 1047.6h.01M394.4 1048.9h.01M394.4 1050.4h.01M394.4 1052.1h.01M394.4 1053.5h.01M394.4 1055.5h.01M394.4 1056.8h.01M394.4 1058.8h.01M394.4 1060.2h.01M394.4 1061.7h.01M394.4 1063.2h.01M394.4 1065.0h.01M394.4 1066.4h.01M394.4 1068.4h.01M394.4 1069.5h.01M394.4 1071.3h.01M394.4 1073.0h.01M394.4 1074.4h.01M394.4 1076.3h.01M394.4 1077.7h.01M394.4 1079.4h.01M394.4 1081.0h.01M394.4 1082.4h.01M394.4 1084.1h.01M394.4 1085.5h.01M394.4 1087.1h.01M394.4 1089.2h.01M394.4 1090.4h.01M394.4 1092.2h.01M394.4 1093.5h.01M394.4 1095.4h.01M394.4 1096.9h.01M394.4 1098.5h.01M394.4 1100.0h.01M394.4 1101.5h.01M394.4 1103.2h.01M394.4 1104.8h.01M394.4 1106.3h.01M394.4 1108.3h.01M394.4 1109.6h.01M394.4 1111.3h.01M394.4 1113.2h.01M465.0 1032.7h.01M465.0 1034.4h.01M465.0 1036.0h.01M465.0 1038.0h.01M465.0 1039.2h.01M465.0 1041.2h.01M465.0 1042.7h.01M465.0 1044.0h.01M465.0 1045.9h.01M465.0 1047.3h.01M465.0 1049.1h.01M465.0 1050.8h.01M465.0 1052.1h.01M465.0 1053.6h.01M465.0 1055.7h.01M465.0 1057.0h.01M465.0 1058.9h.01M465.0 1060.3h.01M465.0 1061.9h.01M465.0 1063.6h.01M465.0 1065.1h.01M465.0 1066.6h.01M465.0 1067.9h.01M465.0 1069.9h.01M465.0 1071.4h.01M465.0 1073.0h.01M465.0 1074.9h.01M465.0 1076.0h.01M465.0 1078.0h.01M465.0 1079.1h.01M465.0 1081.1h.01M465.0 1082.8h.01M465.0 1084.1h.01M465.0 1085.8h.01M465.0 1087.7h.01M465.0 1089.1h.01M465.0 1090.6h.01M465.0 1092.0h.01M465.0 1093.5h.01M465.0 1095.3h.01M465.0 1096.9h.01M465.0 1098.4h.01M465.0 1100.1h.01M465.0 1101.6h.01M465.0 1103.5h.01M465.0 1105.1h.01M465.0 1106.4h.01M465.0 1108.0h.01M465.0 1109.8h.01M465.0 1111.4h.01M465.0 1113.3h.01M465.0 1114.5h.01M465.0 1116.1h.01M465.0 1118.0h.01M465.0 1119.2h.01M465.0 1121.0h.01M465.0 1122.5h.01M465.0 1124.4h.01M465.0 1125.8h.01M465.0 1127.6h.01M465.0 1128.8h.01M465.0 1130.7h.01M465.0 1132.3h.01M465.0 1133.8h.01M535.6 1063.3h.01M535.6 1064.7h.01M535.6 1066.3h.01M535.6 1068.1h.01M535.6 1069.5h.01M535.6 1070.9h.01M535.6 1072.4h.01M535.6 1074.0h.01M535.6 1075.5h.01M535.6 1077.6h.01M535.6 1079.2h.01M535.6 1080.5h.01M535.6 1082.0h.01M535.6 1083.9h.01M535.6 1085.6h.01M535.6 1087.3h.01M535.6 1088.4h.01M535.6 1090.4h.01M535.6 1092.0h.01M535.6 1093.5h.01M535.6 1094.9h.01M535.6 1096.4h.01M535.6 1098.4h.01M535.6 1099.7h.01M535.6 1101.3h.01M535.6 1103.0h.01M535.6 1104.5h.01M535.6 1106.4h.01M535.6 1107.6h.01M535.6 1109.1h.01M535.6 1111.0h.01M535.6 1112.7h.01M535.6 1114.4h.01M535.6 1115.9h.01M535.6 1117.6h.01M535.6 1119.3h.01M535.6 1120.6h.01M535.6 1122.2h.01M535.6 1123.6h.01M535.6 1125.3h.01M535.6 1127.0h.01M535.6 1128.3h.01M535.6 1130.3h.01M535.6 1131.6h.01M535.6 1133.4h.01M535.6 1135.3h.01M535.6 1136.4h.01M606.2 1062.8h.01M606.2 1064.5h.01M606.2 1066.2h.01M606.2 1068.1h.01M606.2 1069.6h.01M606.2 1071.2h.01M606.2 1072.9h.01M606.2 1074.5h.01M606.2 1075.9h.01M606.2 1077.6h.01M606.2 1078.7h.01M606.2 1080.7h.01M606.2 1082.3h.01M606.2 1083.7h.01M606.2 1085.4h.01M606.2 1087.3h.01M606.2 1088.6h.01M606.2 1090.3h.01M606.2 1091.7h.01M606.2 1093.3h.01M606.2 1095.2h.01M606.2 1096.3h.01M606.2 1098.0h.01M606.2 1099.9h.01M606.2 1101.4h.01M606.2 1102.8h.01M606.2 1104.7h.01M606.2 1106.1h.01M606.2 1107.8h.01M606.2 1109.3h.01M606.2 1111.0h.01M606.2 1112.6h.01M606.2 1114.1h.01M606.2 1115.6h.01M606.2 1117.2h.01M606.2 1119.2h.01M606.2 1120.6h.01M606.2 1122.0h.01M606.2 1124.0h.01M606.2 1125.3h.01M606.2 1126.8h.01M606.2 1128.6h.01M676.9 1062.8h.01M676.9 1064.8h.01M676.9 1066.1h.01M676.9 1067.6h.01M676.9 1069.7h.01M676.9 1071.0h.01M676.9 1072.8h.01M676.9 1074.0h.01M676.9 1076.0h.01M676.9 1077.1h.01M676.9 1078.8h.01M676.9 1080.5h.01M676.9 1081.9h.01M676.9 1083.9h.01M676.9 1085.2h.01M676.9 1086.9h.01M676.9 1088.7h.01M676.9 1090.2h.01M676.9 1092.0h.01M676.9 1093.5h.01M676.9 1095.2h.01" stroke="#e8391f" stroke-width="5.1" stroke-linecap="round" fill="none"/>

<rect x="155.5" y="730.8" width="620.5" height="526.7" fill="none" stroke="#3c3c3c" stroke-width="1.5"/>
<path d="M182.5 1257.5v5M295.5 1257.5v5M408.5 1257.5v5M521.5 1257.5v5M634.5 1257.5v5M747.5 1257.5v5M155.5 1257.6h-5M155.5 1191.8h-5M155.5 1126.0h-5M155.5 1060.1h-5M155.5 994.3h-5M155.5 928.4h-5M155.5 862.6h-5M155.5 796.8h-5M155.5 730.9h-5" stroke="#3c3c3c" stroke-width="1.2" fill="none"/>
<g font-family='"DejaVu Sans",sans-serif' font-size="20.8" fill="#111" stroke="#111" stroke-width="0.3">
<text x="182.5" y="1283.8" text-anchor="middle" textLength="34.4" lengthAdjust="spacingAndGlyphs">0.0</text>
<text x="295.5" y="1283.8" text-anchor="middle" textLength="34.4" lengthAdjust="spacingAndGlyphs">0.2</text>
<text x="408.5" y="1283.8" text-anchor="middle" textLength="34.4" lengthAdjust="spacingAndGlyphs">0.4</text>
<text x="521.5" y="1283.8" text-anchor="middle" textLength="34.4" lengthAdjust="spacingAndGlyphs">0.6</text>
<text x="634.5" y="1283.8" text-anchor="middle" textLength="34.4" lengthAdjust="spacingAndGlyphs">0.8</text>
<text x="747.5" y="1283.8" text-anchor="middle" textLength="34.4" lengthAdjust="spacingAndGlyphs">1.0</text>
<text x="144.3" y="1266.4" text-anchor="end">−0.2</text>
<text x="144.3" y="1200.6" text-anchor="end">0.0</text>
<text x="144.3" y="1134.8" text-anchor="end">0.2</text>
<text x="144.3" y="1068.9" text-anchor="end">0.4</text>
<text x="144.3" y="1003.1" text-anchor="end">0.6</text>
<text x="144.3" y="937.2" text-anchor="end">0.8</text>
<text x="144.3" y="871.4" text-anchor="end">1.0</text>
<text x="144.3" y="805.6" text-anchor="end">1.2</text>
<text x="144.3" y="739.7" text-anchor="end">1.4</text>
</g>
<rect x="436" y="731.5" width="339.3" height="301" fill="#fff"/><rect x="488" y="1020" width="287.3" height="42" fill="#fff"/>
<circle cx="465" cy="730.6" r="1.8" fill="#e8391f"/>
<g transform="translate(476.40 1001.40) rotate(-90)"><g font-family='"Liberation Sans",sans-serif' fill="#000" stroke="#000" stroke-width="0.5"><text x="-1.37" y="0.00" font-size="30.80" textLength="239.31" lengthAdjust="spacingAndGlyphs">CE Mixing Enthalpy</text></g></g>
<rect x="477.4" y="734" width="34" height="290" fill="#fff"/>
<rect x="511.4" y="741.7" width="247.3" height="264.9" fill="#fff" stroke="#9a9a9a" stroke-width="1.2"/><path d="M511.4 1006.6L758.7 741.7" stroke="#222" stroke-width="1.2" stroke-dasharray="4.2 1.6"/><path d="M598.5 909.8h.01M542.7 974.2h.01M587.7 922.4h.01M603.8 906.0h.01M548.3 964.0h.01M559.7 956.5h.01M554.7 964.3h.01M585.9 925.3h.01M548.3 965.9h.01M603.6 907.7h.01M554.1 962.7h.01M594.5 918.3h.01M569.8 941.1h.01M582.5 926.7h.01M594.6 915.4h.01M540.3 980.9h.01M566.7 945.7h.01M609.4 899.4h.01M603.6 906.5h.01M605.0 906.0h.01M593.8 920.4h.01M551.9 961.5h.01M607.1 907.7h.01M588.3 921.3h.01M545.3 971.0h.01M611.1 898.4h.01M586.6 924.7h.01M568.2 945.3h.01M576.8 938.6h.01M567.6 947.4h.01M539.7 978.1h.01M540.9 976.0h.01M576.1 936.5h.01M550.9 964.3h.01M593.1 919.3h.01M579.4 931.9h.01M560.3 956.8h.01M616.1 895.6h.01M619.0 888.5h.01M601.2 909.8h.01M609.3 901.2h.01M590.2 925.4h.01M568.4 946.4h.01M609.4 897.6h.01M614.7 896.8h.01M600.6 912.9h.01M598.7 916.4h.01M567.4 946.8h.01M583.5 930.1h.01M566.3 947.3h.01M565.2 946.3h.01M568.7 945.4h.01M558.8 955.6h.01M550.1 963.0h.01M539.8 974.4h.01M575.0 940.3h.01M584.9 928.3h.01M544.6 969.8h.01M563.5 952.2h.01M583.5 925.9h.01M614.6 898.9h.01M586.1 922.2h.01M545.7 968.6h.01M618.6 889.0h.01M567.9 945.7h.01M609.0 904.5h.01M544.7 975.9h.01M561.4 952.6h.01M559.9 953.3h.01M560.8 953.5h.01M595.8 915.7h.01M555.3 957.3h.01M587.7 922.7h.01M555.0 962.4h.01M598.2 910.6h.01M545.6 970.7h.01M604.3 905.6h.01M550.2 966.5h.01M554.3 965.2h.01M590.7 922.8h.01M613.4 896.9h.01M599.4 910.3h.01M591.4 923.8h.01M566.4 945.8h.01M543.8 972.5h.01M589.6 922.5h.01M566.1 951.1h.01M559.9 954.6h.01M576.5 931.6h.01M584.6 927.8h.01M618.6 888.8h.01M597.4 913.4h.01M565.7 947.3h.01M550.7 963.8h.01M600.9 907.2h.01M573.2 938.1h.01M582.5 932.9h.01M592.1 921.8h.01M587.6 926.9h.01M559.9 951.3h.01M596.4 915.2h.01M564.1 954.2h.01M601.3 907.8h.01M561.6 953.2h.01M581.3 930.6h.01M539.9 976.5h.01M577.5 938.1h.01M568.4 948.9h.01M618.8 891.1h.01M546.4 965.2h.01M541.5 973.8h.01M579.6 933.0h.01M583.8 926.7h.01M568.6 940.3h.01M551.2 962.3h.01M613.3 894.1h.01M552.2 958.9h.01M558.7 955.2h.01M618.2 895.5h.01M566.9 947.1h.01M603.6 909.9h.01M611.8 898.5h.01M547.9 967.6h.01M591.1 922.1h.01M571.5 941.7h.01M584.6 928.8h.01M572.2 936.6h.01M589.6 925.5h.01M557.2 957.5h.01M574.1 937.6h.01M557.8 955.7h.01M590.9 917.7h.01M563.2 949.5h.01M585.0 927.8h.01M551.8 960.3h.01M560.7 957.3h.01M599.6 911.3h.01M565.9 950.0h.01M578.2 933.9h.01M594.1 918.9h.01M587.3 928.3h.01M610.2 899.9h.01M556.1 957.1h.01M601.9 911.1h.01M608.6 900.6h.01M619.2 886.9h.01M563.1 950.1h.01M617.5 892.7h.01M540.0 974.9h.01M598.4 914.1h.01M625.6 882.8h.01M625.2 882.1h.01M640.6 865.5h.01M674.1 833.8h.01M680.2 824.4h.01M668.6 838.0h.01M662.2 842.8h.01M633.9 874.8h.01M646.2 861.9h.01M680.8 824.8h.01M639.2 869.0h.01M649.7 859.1h.01M628.0 882.8h.01M662.0 844.8h.01M628.7 881.1h.01M626.5 885.6h.01M641.5 871.7h.01M641.2 867.5h.01M632.9 872.4h.01M664.8 843.1h.01M636.5 871.9h.01M623.9 884.7h.01M749.4 755.8h.01M720.1 787.2h.01M701.5 807.1h.01M696.9 806.3h.01M678.3 829.4h.01M672.1 836.1h.01M666.0 838.6h.01M662.9 846.0h.01M650.5 854.3h.01M644.3 862.6h.01M516.0 1002.5h.01M656.7 851.0h.01M641.2 872.5h.01" stroke="#1226ee" stroke-width="3.8" stroke-linecap="round" fill="none"/><path d="M511.4 1006.6v3M542.3 1006.6v3M573.2 1006.6v3M604.1 1006.6v3M635.0 1006.6v3M666.0 1006.6v3M696.9 1006.6v3M727.8 1006.6v3M758.7 1006.6v3M511.4 1006.6h-3M511.4 973.5h-3M511.4 940.4h-3M511.4 907.3h-3M511.4 874.2h-3M511.4 841.0h-3M511.4 807.9h-3M511.4 774.8h-3M511.4 741.7h-3" stroke="#444" stroke-width="1" fill="none"/><g font-family='"DejaVu Sans",sans-serif' font-size="13.8" fill="#111"><text x="511.4" y="1022.3" text-anchor="middle" textLength="33.5" lengthAdjust="spacingAndGlyphs">−0.2</text><text x="542.3" y="1022.3" text-anchor="middle" textLength="21.9" lengthAdjust="spacingAndGlyphs">0.0</text><text x="573.2" y="1022.3" text-anchor="middle" textLength="21.9" lengthAdjust="spacingAndGlyphs">0.2</text><text x="604.1" y="1022.3" text-anchor="middle" textLength="21.9" lengthAdjust="spacingAndGlyphs">0.4</text><text x="635.0" y="1022.3" text-anchor="middle" textLength="21.9" lengthAdjust="spacingAndGlyphs">0.6</text><text x="666.0" y="1022.3" text-anchor="middle" textLength="21.9" lengthAdjust="spacingAndGlyphs">0.8</text><text x="696.9" y="1022.3" text-anchor="middle" textLength="21.9" lengthAdjust="spacingAndGlyphs">1.0</text><text x="727.8" y="1022.3" text-anchor="middle" textLength="21.9" lengthAdjust="spacingAndGlyphs">1.2</text><text x="758.7" y="1022.3" text-anchor="middle" textLength="21.9" lengthAdjust="spacingAndGlyphs">1.4</text><text x="508.0" y="1011.7" text-anchor="end" textLength="36.9" lengthAdjust="spacingAndGlyphs">−0.2</text><text x="508.0" y="978.6" text-anchor="end" textLength="24.1" lengthAdjust="spacingAndGlyphs">0.0</text><text x="508.0" y="945.5" text-anchor="end" textLength="24.1" lengthAdjust="spacingAndGlyphs">0.2</text><text x="508.0" y="912.4" text-anchor="end" textLength="24.1" lengthAdjust="spacingAndGlyphs">0.4</text><text x="508.0" y="879.3" text-anchor="end" textLength="24.1" lengthAdjust="spacingAndGlyphs">0.6</text><text x="508.0" y="846.1" text-anchor="end" textLength="24.1" lengthAdjust="spacingAndGlyphs">0.8</text><text x="508.0" y="813.0" text-anchor="end" textLength="24.1" lengthAdjust="spacingAndGlyphs">1.0</text><text x="508.0" y="779.9" text-anchor="end" textLength="24.1" lengthAdjust="spacingAndGlyphs">1.2</text><text x="508.0" y="746.8" text-anchor="end" textLength="24.1" lengthAdjust="spacingAndGlyphs">1.4</text></g>
<rect x="164.2" y="739.5" width="77.0" height="66.5" fill="#fff" stroke="#222" stroke-width="1.3"/><circle cx="179.2" cy="761.1" r="8.5" fill="none" stroke="#1430f0" stroke-width="1.8"/><ellipse cx="180.2" cy="784.8" rx="6.3" ry="7.3" fill="#e8391f"/><g font-family='"DejaVu Sans",sans-serif' fill="#111"><text x="189.35" y="766.00" font-size="21.50" textLength="35.63" lengthAdjust="spacingAndGlyphs">DFT</text></g><g font-family='"DejaVu Sans",sans-serif' fill="#111"><text x="190.03" y="792.10" font-size="21.50" textLength="25.95" lengthAdjust="spacingAndGlyphs">CE</text></g>
<g font-family='"Liberation Sans",sans-serif' fill="#000" stroke="#000" stroke-width="0.5"><text x="493.98" y="1049.30" font-size="28.00" textLength="256.66" lengthAdjust="spacingAndGlyphs">DFT Mixing Enthalpy</text></g>
<g font-family='"Liberation Sans",sans-serif' fill="#000" stroke="#000" stroke-width="0.5"><text x="538.70" y="768.30" font-size="22.20" textLength="71.26" lengthAdjust="spacingAndGlyphs">RMSE:</text></g>
<g font-family='"Liberation Sans",sans-serif' fill="#000" stroke="#000" stroke-width="0.5"><text x="545.73" y="793.50" font-size="22.20" textLength="54.87" lengthAdjust="spacingAndGlyphs" font-weight="bold">0.015</text></g>
<g font-family='"Liberation Sans",sans-serif' fill="#000" stroke="#000" stroke-width="0.5"><text x="522.10" y="821.00" font-size="22.20" textLength="103.33" lengthAdjust="spacingAndGlyphs">eV/unitcell</text></g>
<g transform="translate(77.60 1277.30) rotate(-90)"><g font-family='"Liberation Sans",sans-serif' fill="#000" stroke="#000" stroke-width="0.5"><text x="-2.66" y="0.00" font-size="35.50" textLength="552.58" lengthAdjust="spacingAndGlyphs">Mixing Enthalpy (eV/primitive unitcell)</text></g></g>
<g font-family='"Liberation Sans",sans-serif' fill="#000" stroke="#000" stroke-width="0.5"><text x="114.62" y="1332.90" font-size="30.50" textLength="81.08" lengthAdjust="spacingAndGlyphs">MgGa</text><text x="195.70" y="1337.48" font-size="20.13" textLength="10.93" lengthAdjust="spacingAndGlyphs">2</text><text x="206.63" y="1332.90" font-size="30.50" textLength="23.16" lengthAdjust="spacingAndGlyphs">O</text><text x="229.79" y="1337.48" font-size="20.13" textLength="10.93" lengthAdjust="spacingAndGlyphs">4</text></g>
<g font-family='"Liberation Sans",sans-serif' fill="#000" stroke="#000" stroke-width="0.5"><text x="117.20" y="1369.80" font-size="30.50" textLength="118.31" lengthAdjust="spacingAndGlyphs">(Inverse)</text></g>
<g font-family='"Liberation Sans",sans-serif' fill="#000" stroke="#000" stroke-width="0.5"><text x="338.33" y="1327.00" font-size="34.00" textLength="185.58" lengthAdjust="spacingAndGlyphs">Composition</text><text x="533.19" y="1327.00" font-size="34.00" textLength="16.69" lengthAdjust="spacingAndGlyphs" font-style="italic">x</text><text x="559.15" y="1327.00" font-size="34.00" textLength="25.99" lengthAdjust="spacingAndGlyphs">in</text></g>
<g font-family='"Liberation Sans",sans-serif' fill="#000" stroke="#000" stroke-width="0.5"><text x="337.30" y="1367.90" font-size="34.00" textLength="88.13" lengthAdjust="spacingAndGlyphs">Mg(Al</text><text x="425.43" y="1374.02" font-size="21.42" textLength="10.63" lengthAdjust="spacingAndGlyphs">x</text><text x="436.06" y="1367.90" font-size="34.00" textLength="45.02" lengthAdjust="spacingAndGlyphs">Ga</text><text x="481.08" y="1374.02" font-size="21.42" textLength="29.54" lengthAdjust="spacingAndGlyphs">1-x</text><text x="510.62" y="1367.90" font-size="34.00" textLength="11.24" lengthAdjust="spacingAndGlyphs">)</text><text x="521.86" y="1374.02" font-size="21.42" textLength="11.82" lengthAdjust="spacingAndGlyphs">2</text><text x="533.68" y="1367.90" font-size="34.00" textLength="26.25" lengthAdjust="spacingAndGlyphs">O</text><text x="559.93" y="1374.02" font-size="21.42" textLength="11.82" lengthAdjust="spacingAndGlyphs">4</text></g>
<g font-family='"Liberation Sans",sans-serif' fill="#000" stroke="#000" stroke-width="0.5"><text x="687.54" y="1329.70" font-size="30.50" textLength="67.12" lengthAdjust="spacingAndGlyphs">MgAl</text><text x="754.67" y="1334.28" font-size="20.13" textLength="10.81" lengthAdjust="spacingAndGlyphs">2</text><text x="765.48" y="1329.70" font-size="30.50" textLength="22.91" lengthAdjust="spacingAndGlyphs">O</text><text x="788.39" y="1334.28" font-size="20.13" textLength="10.81" lengthAdjust="spacingAndGlyphs">4</text></g>
<g font-family='"Liberation Sans",sans-serif' fill="#000" stroke="#000" stroke-width="0.5"><text x="685.11" y="1369.80" font-size="30.50" textLength="115.84" lengthAdjust="spacingAndGlyphs">(Normal)</text></g>
<text x="0.5" y="752" font-family='"Liberation Sans",sans-serif' font-size="43" stroke="#000" stroke-width="0.8">c</text>
<text x="833" y="751.6" font-family='"Liberation Sans",sans-serif' font-size="46" stroke="#000" stroke-width="0.3">d</text>
<g font-family='"Liberation Sans",sans-serif' fill="#000" stroke="#000" stroke-width="0.5"><text x="651.14" y="219.00" font-size="22.20" textLength="45.31" lengthAdjust="spacingAndGlyphs">DFT</text></g><g font-family='"Liberation Sans",sans-serif' fill="#000" stroke="#000" stroke-width="0.5"><text x="602.61" y="245.00" font-size="22.20" textLength="144.87" lengthAdjust="spacingAndGlyphs">configurations:</text></g><g font-family='"Liberation Sans",sans-serif' fill="#000" stroke="#000" stroke-width="0.5"><text x="662.70" y="271.00" font-size="22.20" textLength="23.55" lengthAdjust="spacingAndGlyphs" font-weight="bold">79</text></g>
<g font-family='"Liberation Sans",sans-serif' fill="#000" stroke="#000" stroke-width="0.5"><text x="1476.94" y="214.50" font-size="22.20" textLength="45.31" lengthAdjust="spacingAndGlyphs">DFT</text></g><g font-family='"Liberation Sans",sans-serif' fill="#000" stroke="#000" stroke-width="0.5"><text x="1428.41" y="240.50" font-size="22.20" textLength="144.87" lengthAdjust="spacingAndGlyphs">configurations:</text></g><g font-family='"Liberation Sans",sans-serif' fill="#000" stroke="#000" stroke-width="0.5"><text x="1482.07" y="266.50" font-size="22.20" textLength="36.00" lengthAdjust="spacingAndGlyphs" font-weight="bold">103</text></g>
<g font-family='"Liberation Sans",sans-serif' fill="#000" stroke="#000" stroke-width="0.5"><text x="656.64" y="934.50" font-size="22.20" textLength="45.31" lengthAdjust="spacingAndGlyphs">DFT</text></g><g font-family='"Liberation Sans",sans-serif' fill="#000" stroke="#000" stroke-width="0.5"><text x="608.11" y="960.50" font-size="22.20" textLength="144.87" lengthAdjust="spacingAndGlyphs">configurations:</text></g><g font-family='"Liberation Sans",sans-serif' fill="#000" stroke="#000" stroke-width="0.5"><text x="661.76" y="986.50" font-size="22.20" textLength="36.11" lengthAdjust="spacingAndGlyphs" font-weight="bold">167</text></g>
<defs>
<radialGradient id="oF" cx="0.42" cy="0.4" r="0.62"><stop offset="0" stop-color="#e2423b"/><stop offset="0.65" stop-color="#cb2f2c"/><stop offset="1" stop-color="#9c1f1f"/></radialGradient>
<radialGradient id="oB" cx="0.42" cy="0.4" r="0.62"><stop offset="0" stop-color="#ea5d5c"/><stop offset="0.7" stop-color="#dc4a4c"/><stop offset="1" stop-color="#c23a3d"/></radialGradient>
<radialGradient id="gG"><stop offset="0" stop-color="#a9dc88"/><stop offset="0.55" stop-color="#a3d884" stop-opacity="0.85"/><stop offset="1" stop-color="#9ed180" stop-opacity="0"/></radialGradient>
<filter id="halo" x="-10%" y="-10%" width="120%" height="120%"><feMorphology in="SourceAlpha" operator="dilate" radius="3.5" result="d"/><feGaussianBlur in="d" stdDeviation="3.2" result="b"/><feFlood flood-color="#fbf0a8"/><feComposite in2="b" operator="in" result="h"/><feMerge><feMergeNode in="h"/><feMergeNode in="h"/><feMergeNode in="SourceGraphic"/></feMerge></filter>
</defs><g filter="url(#halo)"><polygon points="1245.1,818.6 1363.7,824.7 1403.2,917.5 1372.8,1001.1 1424.5,1063.4 1366.7,1007.2 1319.6,1106.0 1236.5,1016.3 1194.9,1113.6 1158.4,1087.8 1117.3,1013.3 1090.0,994.4 1158.4,912.9 1211.6,911.4" fill="#5f7f9e" stroke="#5f7f9e" stroke-width="1.8" stroke-linejoin="round"/>
<polygon points="1158.4,1087.2 1194.9,1114.6 1319.6,1109.4 1353.0,1186.1 1272.4,1251.5 1196.4,1300.1 1153.8,1271.2 1205.5,1164.8" fill="#5f7f9e" stroke="#5f7f9e" stroke-width="1.8" stroke-linejoin="round"/>
<circle cx="1244.5" cy="724.9" r="10.9" fill="url(#oB)"/>
<circle cx="1175.1" cy="800.4" r="8.5" fill="url(#oB)"/>
<circle cx="1210.1" cy="815.6" r="7.6" fill="url(#oB)"/>
<circle cx="1394.7" cy="804.9" r="10.6" fill="url(#oB)"/>
<circle cx="1102.1" cy="891.6" r="10.0" fill="url(#oB)"/>
<circle cx="1056.5" cy="978.3" r="9.7" fill="url(#oB)"/>
<circle cx="1099.7" cy="1042.2" r="9.1" fill="url(#oB)"/>
<circle cx="1429.4" cy="1154.1" r="10.9" fill="url(#oB)"/>
<circle cx="1392.6" cy="1254.5" r="8.5" fill="url(#oB)"/>
<circle cx="1194.5" cy="1325.5" r="10.9" fill="url(#oB)"/>
<circle cx="1315.0" cy="1319.9" r="10.6" fill="url(#oB)"/>
<line x1="1049.5" y1="1141.5" x2="1060.0" y2="1151.5" stroke="#d8372f" stroke-width="6" stroke-linecap="round"/>
<circle cx="1049.5" cy="1141.5" r="10.3" fill="url(#oB)"/>
<polygon points="1244.5,728.9 1178.2,804.9 1202.5,820.1 1219.2,815.0" fill="#7d4a1c" stroke="#7d4a1c" stroke-width="1.8" stroke-linejoin="round"/>
<polygon points="1244.5,728.9 1178.2,804.9 1202.5,820.1 1219.2,815.0" fill="none" stroke="#d8dde2" stroke-width="0.6" stroke-opacity="0.75" stroke-linejoin="round"/>
<polygon points="1244.5,728.9 1275.5,754.1 1243.5,815.0 1219.2,815.0" fill="#d2752d" stroke="#d2752d" stroke-width="1.8" stroke-linejoin="round"/>
<polygon points="1244.5,728.9 1275.5,754.1 1243.5,815.0 1219.2,815.0" fill="none" stroke="#d8dde2" stroke-width="0.6" stroke-opacity="0.75" stroke-linejoin="round"/>
<polygon points="1353.0,811.0 1394.7,804.9 1386.5,830.8 1377.4,870.3 1363.7,852.1" fill="#8fc46e" stroke="#8fc46e" stroke-width="1.8" stroke-linejoin="round"/>
<polygon points="1245.1,820.1 1272.4,903.2 1211.6,911.4" fill="#6384a3" stroke="#6384a3" stroke-width="1.8" stroke-linejoin="round"/>
<polygon points="1245.1,820.1 1272.4,903.2 1211.6,911.4" fill="none" stroke="#d8dde2" stroke-width="0.6" stroke-opacity="0.75" stroke-linejoin="round"/>
<polygon points="1245.1,817.1 1254.2,829.3 1278.5,903.2 1263.3,870.3" fill="#42586d" stroke="#42586d" stroke-width="1.8" stroke-linejoin="round"/>
<polygon points="1245.1,817.1 1254.2,829.3 1278.5,903.2 1263.3,870.3" fill="none" stroke="#d8dde2" stroke-width="0.6" stroke-opacity="0.75" stroke-linejoin="round"/>
<polygon points="1287.0,735.0 1243.5,815.0 1254.2,829.3" fill="#42586d" stroke="#42586d" stroke-width="1.8" stroke-linejoin="round"/>
<polygon points="1287.0,735.0 1243.5,815.0 1254.2,829.3" fill="none" stroke="#d8dde2" stroke-width="0.6" stroke-opacity="0.75" stroke-linejoin="round"/>
<polygon points="1287.0,735.0 1254.2,829.3 1363.7,824.7" fill="#7b9cbb" stroke="#7b9cbb" stroke-width="1.8" stroke-linejoin="round"/>
<polygon points="1287.0,735.0 1254.2,829.3 1363.7,824.7" fill="none" stroke="#d8dde2" stroke-width="0.6" stroke-opacity="0.75" stroke-linejoin="round"/>
<polygon points="1254.2,829.3 1363.7,824.7 1278.5,903.2" fill="#5f7f9e" stroke="#5f7f9e" stroke-width="1.8" stroke-linejoin="round"/>
<polygon points="1254.2,829.3 1363.7,824.7 1278.5,903.2" fill="none" stroke="#d8dde2" stroke-width="0.6" stroke-opacity="0.75" stroke-linejoin="round"/>
<polygon points="1287.6,904.4 1401.7,916.5 1350.0,967.6 1312.0,912.9" fill="#b5652a" stroke="#b5652a" stroke-width="1.8" stroke-linejoin="round"/>
<polygon points="1287.6,904.4 1401.7,916.5 1350.0,967.6 1312.0,912.9" fill="none" stroke="#d8dde2" stroke-width="0.6" stroke-opacity="0.75" stroke-linejoin="round"/>
<polygon points="1345.7,844.2 1400.5,905.6 1286.1,902.9" fill="#d2752d" stroke="#d2752d" stroke-width="1.8" stroke-linejoin="round"/>
<polygon points="1345.7,844.2 1400.5,905.6 1286.1,902.9" fill="none" stroke="#d8dde2" stroke-width="0.6" stroke-opacity="0.75" stroke-linejoin="round"/>
<polygon points="1056.5,810.1 1175.4,804.3 1131.0,894.6" fill="#8fc46e" stroke="#8fc46e" stroke-width="1.8" stroke-linejoin="round"/>
<polygon points="1056.5,810.1 1175.4,804.3 1131.0,894.6" fill="none" stroke="#d8dde2" stroke-width="0.6" stroke-opacity="0.75" stroke-linejoin="round"/>
<polygon points="1055.9,815.6 1124.9,890.1 1103.6,890.1" fill="#4a6b3a" stroke="#4a6b3a" stroke-width="1.8" stroke-linejoin="round"/>
<polygon points="1055.9,815.6 1124.9,890.1 1103.6,890.1" fill="none" stroke="#d8dde2" stroke-width="0.6" stroke-opacity="0.75" stroke-linejoin="round"/>
<circle cx="1108.2" cy="849.0" r="12.2" fill="url(#gG)"/>
<line x1="1123.4" y1="868.8" x2="1126.1" y2="877.0" stroke="#6f9e58" stroke-width="8.8" stroke-linecap="round"/>
<line x1="1123.4" y1="868.8" x2="1126.1" y2="877.0" stroke="#a5d98a" stroke-width="6.8" stroke-linecap="round"/>
<line x1="1126.1" y1="877.0" x2="1131.0" y2="891.6" stroke="#d43a2e" stroke-width="8.2"/>
<polygon points="1164.2,918.1 1178.2,909.9 1278.5,903.8 1212.8,976.2" fill="#6384a3" stroke="#6384a3" stroke-width="1.8" stroke-linejoin="round"/>
<polygon points="1164.2,918.1 1178.2,909.9 1278.5,903.8 1212.8,976.2" fill="none" stroke="#d8dde2" stroke-width="0.6" stroke-opacity="0.75" stroke-linejoin="round"/>
<polygon points="1059.8,975.2 1126.4,897.7 1133.1,900.7 1094.2,985.9" fill="#7d4a1c" stroke="#7d4a1c" stroke-width="1.8" stroke-linejoin="round"/>
<polygon points="1059.8,975.2 1126.4,897.7 1133.1,900.7 1094.2,985.9" fill="none" stroke="#d8dde2" stroke-width="0.6" stroke-opacity="0.75" stroke-linejoin="round"/>
<polygon points="1133.1,899.2 1158.4,919.0 1090.6,993.5 1094.2,985.9" fill="#d2752d" stroke="#d2752d" stroke-width="1.8" stroke-linejoin="round"/>
<polygon points="1133.1,899.2 1158.4,919.0 1090.6,993.5 1094.2,985.9" fill="none" stroke="#d8dde2" stroke-width="0.6" stroke-opacity="0.75" stroke-linejoin="round"/>
<polygon points="1059.8,976.2 1090.0,995.9 1129.8,1067.7 1111.5,1048.5" fill="#7d4a1c" stroke="#7d4a1c" stroke-width="1.8" stroke-linejoin="round"/>
<polygon points="1059.8,976.2 1090.0,995.9 1129.8,1067.7 1111.5,1048.5" fill="none" stroke="#d8dde2" stroke-width="0.6" stroke-opacity="0.75" stroke-linejoin="round"/>
<polygon points="1090.0,996.8 1115.5,1021.5 1138.6,1060.4 1129.8,1067.7" fill="#b5652a" stroke="#b5652a" stroke-width="1.8" stroke-linejoin="round"/>
<polygon points="1090.0,996.8 1115.5,1021.5 1138.6,1060.4 1129.8,1067.7" fill="none" stroke="#d8dde2" stroke-width="0.6" stroke-opacity="0.75" stroke-linejoin="round"/>
<circle cx="1131.0" cy="894.6" r="10.6" fill="url(#oF)"/>
<polygon points="1109.1,823.2 1248.7,816.5 1211.6,911.4 1194.9,914.4" fill="#8fc46e" stroke="#8fc46e" stroke-width="1.8" stroke-linejoin="round"/>
<polygon points="1109.1,823.2 1248.7,816.5 1211.6,911.4 1194.9,914.4" fill="none" stroke="#d8dde2" stroke-width="0.6" stroke-opacity="0.75" stroke-linejoin="round"/>
<polygon points="1109.1,825.9 1194.9,914.4 1190.3,920.5 1156.9,911.4" fill="#4a6b3a" stroke="#4a6b3a" stroke-width="1.8" stroke-linejoin="round"/>
<polygon points="1109.1,825.9 1194.9,914.4 1190.3,920.5 1156.9,911.4" fill="none" stroke="#d8dde2" stroke-width="0.6" stroke-opacity="0.75" stroke-linejoin="round"/>
<circle cx="1181.2" cy="867.3" r="14.6" fill="url(#gG)"/>
<line x1="1188.8" y1="890.1" x2="1193.7" y2="901.0" stroke="#6f9e58" stroke-width="8.8" stroke-linecap="round"/>
<line x1="1188.8" y1="890.1" x2="1193.7" y2="901.0" stroke="#a5d98a" stroke-width="6.8" stroke-linecap="round"/>
<line x1="1193.7" y1="901.0" x2="1202.5" y2="920.5" stroke="#d43a2e" stroke-width="8.2"/>
<polygon points="1346.3,843.2 1356.7,825.9 1373.4,835.3 1379.8,859.4 1371.9,868.8" fill="#8fc46e" stroke="#8fc46e" stroke-width="1.8" stroke-linejoin="round"/>
<polygon points="1371.9,868.8 1379.8,859.4 1384.7,868.8 1405.3,913.5 1400.8,905.6" fill="#fdf6c0" stroke="#fdf6c0" stroke-width="1.8" stroke-linejoin="round"/>
<polygon points="1373.4,860.9 1379.8,859.4 1384.7,868.8" fill="#ffffff" stroke="#ffffff" stroke-width="1.8" stroke-linejoin="round"/>
<polygon points="1363.7,826.2 1492.9,818.6 1464.0,909.9 1450.4,912.9" fill="#8fc46e" stroke="#8fc46e" stroke-width="1.8" stroke-linejoin="round"/>
<polygon points="1363.7,826.2 1492.9,818.6 1464.0,909.9 1450.4,912.9" fill="none" stroke="#d8dde2" stroke-width="0.6" stroke-opacity="0.75" stroke-linejoin="round"/>
<polygon points="1369.8,833.8 1450.4,912.9 1406.3,914.4" fill="#4a6b3a" stroke="#4a6b3a" stroke-width="1.8" stroke-linejoin="round"/>
<polygon points="1369.8,833.8 1450.4,912.9 1406.3,914.4" fill="none" stroke="#d8dde2" stroke-width="0.6" stroke-opacity="0.75" stroke-linejoin="round"/>
<circle cx="1432.1" cy="865.8" r="14.6" fill="url(#gG)"/>
<line x1="1441.2" y1="890.1" x2="1447.3" y2="899.9" stroke="#6f9e58" stroke-width="8.8" stroke-linecap="round"/>
<line x1="1441.2" y1="890.1" x2="1447.3" y2="899.9" stroke="#a5d98a" stroke-width="6.8" stroke-linecap="round"/>
<line x1="1447.3" y1="899.9" x2="1458.0" y2="917.5" stroke="#d43a2e" stroke-width="8.2"/>
<polygon points="1214.6,972.2 1260.3,929.6 1274.0,952.4 1251.1,973.7" fill="#8fc46e" stroke="#8fc46e" stroke-width="1.8" stroke-linejoin="round"/>
<polygon points="1211.6,975.2 1252.7,973.7 1245.1,988.9 1217.7,987.4" fill="#fdf6c0" stroke="#fdf6c0" stroke-width="1.8" stroke-linejoin="round"/>
<polygon points="1217.7,987.4 1252.7,987.4 1243.5,1010.2 1236.5,1013.3" fill="#8fc46e" stroke="#8fc46e" stroke-width="1.8" stroke-linejoin="round"/>
<polygon points="1401.7,920.5 1350.0,967.0 1372.8,1001.1" fill="#42586d" stroke="#42586d" stroke-width="1.8" stroke-linejoin="round"/>
<polygon points="1401.7,920.5 1350.0,967.0 1372.8,1001.1" fill="none" stroke="#d8dde2" stroke-width="0.6" stroke-opacity="0.75" stroke-linejoin="round"/>
<polygon points="1403.8,917.5 1372.8,1001.1 1477.7,1008.7" fill="#7b9cbb" stroke="#7b9cbb" stroke-width="1.8" stroke-linejoin="round"/>
<polygon points="1403.8,917.5 1372.8,1001.1 1477.7,1008.7" fill="none" stroke="#d8dde2" stroke-width="0.6" stroke-opacity="0.75" stroke-linejoin="round"/>
<polygon points="1366.7,1004.1 1477.7,1009.6 1419.6,1063.4 1412.3,1065.0" fill="#6384a3" stroke="#6384a3" stroke-width="1.8" stroke-linejoin="round"/>
<polygon points="1366.7,1004.1 1477.7,1009.6 1419.6,1063.4 1412.3,1065.0" fill="none" stroke="#d8dde2" stroke-width="0.6" stroke-opacity="0.75" stroke-linejoin="round"/>
<polygon points="1316.2,1010.8 1363.1,1006.6 1293.7,1077.4 1288.2,1072.9 1294.0,1060.1" fill="#d2752d" stroke="#d2752d" stroke-width="1.8" stroke-linejoin="round"/>
<polygon points="1316.2,1010.8 1363.1,1006.6 1293.7,1077.4 1288.2,1072.9 1294.0,1060.1" fill="none" stroke="#d8dde2" stroke-width="0.6" stroke-opacity="0.75" stroke-linejoin="round"/>
<polygon points="1317.1,1012.0 1333.3,1010.8 1342.1,1029.7 1335.7,1033.6" fill="#7d4a1c" stroke="#7d4a1c" stroke-width="1.8" stroke-linejoin="round"/>
<polygon points="1341.2,1009.9 1361.8,1007.5 1352.4,1020.3" fill="#42586d" stroke="#42586d" stroke-width="1.8" stroke-linejoin="round"/>
<polygon points="1239.0,1014.8 1327.2,1007.8 1289.2,1060.4 1293.7,1078.6" fill="#8fc46e" stroke="#8fc46e" stroke-width="1.8" stroke-linejoin="round"/>
<circle cx="1263.3" cy="1030.0" r="9.1" fill="url(#gG)"/>
<line x1="1278.5" y1="904.4" x2="1292.7" y2="903.3" stroke="#d8372f" stroke-width="6" stroke-linecap="round"/>
<circle cx="1278.5" cy="904.4" r="10.0" fill="url(#oF)"/>
<polygon points="1278.5,906.2 1325.7,926.6 1243.5,1011.7" fill="#557d43" stroke="#557d43" stroke-width="1.8" stroke-linejoin="round"/>
<polygon points="1278.5,906.2 1325.7,926.6 1243.5,1011.7" fill="none" stroke="#d8dde2" stroke-width="0.6" stroke-opacity="0.75" stroke-linejoin="round"/>
<polygon points="1328.7,926.6 1366.7,1004.1 1243.5,1013.3" fill="#79a75b" stroke="#79a75b" stroke-width="1.8" stroke-linejoin="round"/>
<polygon points="1328.7,926.6 1366.7,1004.1 1243.5,1013.3" fill="none" stroke="#d8dde2" stroke-width="0.6" stroke-opacity="0.75" stroke-linejoin="round"/>
<circle cx="1301.9" cy="959.4" r="22.5" fill="url(#gG)"/>
<line x1="1312.0" y1="947.9" x2="1317.4" y2="940.2" stroke="#6f9e58" stroke-width="8.8" stroke-linecap="round"/>
<line x1="1312.0" y1="947.9" x2="1317.4" y2="940.2" stroke="#a5d98a" stroke-width="6.8" stroke-linecap="round"/>
<line x1="1317.4" y1="940.2" x2="1327.2" y2="926.6" stroke="#d43a2e" stroke-width="8.2"/>
<circle cx="1158.4" cy="912.9" r="7.3" fill="url(#oF)"/>
<circle cx="1171.2" cy="916.5" r="5.5" fill="url(#oF)"/>
<polygon points="1090.0,994.4 1161.7,919.6 1124.3,995.0 1117.3,1013.3" fill="#42586d" stroke="#42586d" stroke-width="1.8" stroke-linejoin="round"/>
<polygon points="1090.0,994.4 1161.7,919.6 1124.3,995.0 1117.3,1013.3" fill="none" stroke="#d8dde2" stroke-width="0.6" stroke-opacity="0.75" stroke-linejoin="round"/>
<polygon points="1164.2,918.1 1117.3,1013.6 1236.5,1015.1" fill="#7b9cbb" stroke="#7b9cbb" stroke-width="1.8" stroke-linejoin="round"/>
<polygon points="1164.2,918.1 1117.3,1013.6 1236.5,1015.1" fill="none" stroke="#d8dde2" stroke-width="0.6" stroke-opacity="0.75" stroke-linejoin="round"/>
<polygon points="1117.3,1014.8 1236.5,1015.7 1164.2,1085.3" fill="#5f7f9e" stroke="#5f7f9e" stroke-width="1.8" stroke-linejoin="round"/>
<polygon points="1117.3,1014.8 1236.5,1015.7 1164.2,1085.3" fill="none" stroke="#d8dde2" stroke-width="0.6" stroke-opacity="0.75" stroke-linejoin="round"/>
<polygon points="1232.0,1020.0 1164.2,1084.4 1203.1,1102.7" fill="#42586d" stroke="#42586d" stroke-width="1.8" stroke-linejoin="round"/>
<polygon points="1232.0,1020.0 1164.2,1084.4 1203.1,1102.7" fill="none" stroke="#d8dde2" stroke-width="0.6" stroke-opacity="0.75" stroke-linejoin="round"/>
<polygon points="1114.0,1021.5 1124.9,1024.5 1164.2,1085.3 1155.3,1078.6" fill="#42586d" stroke="#42586d" stroke-width="1.8" stroke-linejoin="round"/>
<polygon points="1114.0,1021.5 1124.9,1024.5 1164.2,1085.3 1155.3,1078.6" fill="none" stroke="#d8dde2" stroke-width="0.6" stroke-opacity="0.75" stroke-linejoin="round"/>
<polygon points="1161.4,1091.8 1193.4,1117.6 1232.9,1176.9 1205.5,1164.8" fill="#54708c" stroke="#54708c" stroke-width="1.8" stroke-linejoin="round"/>
<polygon points="1236.5,1016.4 1199.4,1113.1 1318.1,1109.4" fill="#7b9cbb" stroke="#7b9cbb" stroke-width="1.8" stroke-linejoin="round"/>
<polygon points="1236.5,1016.4 1199.4,1113.1 1318.1,1109.4" fill="none" stroke="#d8dde2" stroke-width="0.6" stroke-opacity="0.75" stroke-linejoin="round"/>
<polygon points="1199.4,1116.1 1318.1,1110.6 1246.6,1184.5" fill="#5f7f9e" stroke="#5f7f9e" stroke-width="1.8" stroke-linejoin="round"/>
<polygon points="1199.4,1116.1 1318.1,1110.6 1246.6,1184.5" fill="none" stroke="#d8dde2" stroke-width="0.6" stroke-opacity="0.75" stroke-linejoin="round"/>
<polygon points="1194.9,1119.2 1202.5,1117.6 1245.1,1181.5 1229.9,1173.9" fill="#42586d" stroke="#42586d" stroke-width="1.8" stroke-linejoin="round"/>
<polygon points="1194.9,1119.2 1202.5,1117.6 1245.1,1181.5 1229.9,1173.9" fill="none" stroke="#d8dde2" stroke-width="0.6" stroke-opacity="0.75" stroke-linejoin="round"/>
<polygon points="1312.0,1119.2 1350.0,1184.5 1251.1,1185.5" fill="#7b9cbb" stroke="#7b9cbb" stroke-width="1.8" stroke-linejoin="round"/>
<polygon points="1312.0,1119.2 1350.0,1184.5 1251.1,1185.5" fill="none" stroke="#d8dde2" stroke-width="0.6" stroke-opacity="0.75" stroke-linejoin="round"/>
<polygon points="1180.9,1117.0 1189.4,1121.9 1211.6,1153.8 1207.0,1157.5" fill="#7d4a1c" stroke="#7d4a1c" stroke-width="1.8" stroke-linejoin="round"/>
<polygon points="1208.9,1150.8 1217.7,1156.9 1211.0,1158.7" fill="#d2752d" stroke="#d2752d" stroke-width="1.8" stroke-linejoin="round"/>
<polygon points="1128.9,1068.1 1156.9,1088.7 1080.8,1163.3" fill="#557d43" stroke="#557d43" stroke-width="1.8" stroke-linejoin="round"/>
<polygon points="1128.9,1068.1 1156.9,1088.7 1080.8,1163.3" fill="none" stroke="#d8dde2" stroke-width="0.6" stroke-opacity="0.75" stroke-linejoin="round"/>
<polygon points="1158.4,1090.3 1080.8,1164.2 1204.0,1166.3" fill="#79a75b" stroke="#79a75b" stroke-width="1.8" stroke-linejoin="round"/>
<polygon points="1158.4,1090.3 1080.8,1164.2 1204.0,1166.3" fill="none" stroke="#d8dde2" stroke-width="0.6" stroke-opacity="0.75" stroke-linejoin="round"/>
<circle cx="1138.6" cy="1119.2" r="17.6" fill="url(#gG)"/>
<line x1="1147.1" y1="1111.5" x2="1151.2" y2="1103.3" stroke="#6f9e58" stroke-width="8.8" stroke-linecap="round"/>
<line x1="1147.1" y1="1111.5" x2="1151.2" y2="1103.3" stroke="#a5d98a" stroke-width="6.8" stroke-linecap="round"/>
<line x1="1151.2" y1="1103.3" x2="1158.4" y2="1088.7" stroke="#d43a2e" stroke-width="8.2"/>
<circle cx="1204.3" cy="1162.9" r="5.2" fill="url(#oB)"/>
<polygon points="1059.8,1140.4 1092.4,1138.3 1083.9,1158.1 1088.4,1167.8 1153.8,1167.8 1145.9,1194.0 1117.9,1195.8 1109.1,1190.0 1083.9,1172.7 1072.6,1159.9" fill="#8fc46e" stroke="#8fc46e" stroke-width="1.8" stroke-linejoin="round"/>
<circle cx="1106.1" cy="1179.1" r="10.9" fill="url(#gG)"/>
<polygon points="1153.8,1168.1 1195.2,1168.1 1196.7,1175.7 1179.4,1190.0 1147.4,1193.7" fill="#ffffff" stroke="#ffffff" stroke-width="1.8" stroke-linejoin="round"/>
<polygon points="1147.4,1193.7 1152.3,1183.6 1177.8,1183.6 1179.4,1190.0" fill="#fdf6c0" stroke="#fdf6c0" stroke-width="1.8" stroke-linejoin="round"/>
<polygon points="1179.4,1190.0 1198.5,1175.7 1195.2,1190.0" fill="#42586d" stroke="#42586d" stroke-width="1.8" stroke-linejoin="round"/>
<polygon points="1195.2,1190.0 1204.9,1167.8 1238.4,1183.6" fill="#7b9cbb" stroke="#7b9cbb" stroke-width="1.8" stroke-linejoin="round"/>
<circle cx="1098.2" cy="1210.7" r="7.9" fill="url(#oB)"/>
<circle cx="1126.8" cy="1233.8" r="8.8" fill="url(#oB)"/>
<circle cx="1156.3" cy="1271.2" r="9.4" fill="url(#oB)"/>
<polygon points="1065.6,1160.2 1185.8,1295.5 1179.7,1295.5 1096.0,1201.3" fill="#4a6b3a" stroke="#4a6b3a" stroke-width="1.8" stroke-linejoin="round"/>
<polygon points="1065.6,1160.2 1185.8,1295.5 1179.7,1295.5 1096.0,1201.3" fill="none" stroke="#d8dde2" stroke-width="0.6" stroke-opacity="0.75" stroke-linejoin="round"/>
<polygon points="1162.9,1278.8 1187.3,1292.5 1195.8,1322.9 1182.7,1310.8" fill="#6b8cab" stroke="#6b8cab" stroke-width="1.8" stroke-linejoin="round"/>
<polygon points="1236.5,1202.8 1272.4,1251.5 1213.4,1260.9 1220.7,1234.7" fill="#7b9cbb" stroke="#7b9cbb" stroke-width="1.8" stroke-linejoin="round"/>
<polygon points="1236.5,1202.8 1272.4,1251.5 1213.4,1260.9 1220.7,1234.7" fill="none" stroke="#d8dde2" stroke-width="0.6" stroke-opacity="0.75" stroke-linejoin="round"/>
<polygon points="1213.4,1262.1 1272.4,1252.4 1208.0,1310.8 1203.4,1288.9" fill="#5f7f9e" stroke="#5f7f9e" stroke-width="1.8" stroke-linejoin="round"/>
<polygon points="1213.4,1262.1 1272.4,1252.4 1208.0,1310.8 1203.4,1288.9" fill="none" stroke="#d8dde2" stroke-width="0.6" stroke-opacity="0.75" stroke-linejoin="round"/>
<polygon points="1245.1,1187.6 1251.1,1187.6 1275.5,1249.9 1263.3,1234.7 1239.0,1204.3" fill="#42586d" stroke="#42586d" stroke-width="1.8" stroke-linejoin="round"/>
<polygon points="1245.1,1187.6 1251.1,1187.6 1275.5,1249.9 1263.3,1234.7 1239.0,1204.3" fill="none" stroke="#d8dde2" stroke-width="0.6" stroke-opacity="0.75" stroke-linejoin="round"/>
<polygon points="1251.1,1187.6 1348.5,1187.6 1275.5,1249.9" fill="#5f7f9e" stroke="#5f7f9e" stroke-width="1.8" stroke-linejoin="round"/>
<polygon points="1251.1,1187.6 1348.5,1187.6 1275.5,1249.9" fill="none" stroke="#d8dde2" stroke-width="0.6" stroke-opacity="0.75" stroke-linejoin="round"/>
<polygon points="1111.2,1196.7 1239.0,1185.5 1205.5,1287.9 1191.8,1298.0" fill="#8fc46e" stroke="#8fc46e" stroke-width="1.8" stroke-linejoin="round"/>
<polygon points="1111.2,1196.7 1239.0,1185.5 1205.5,1287.9 1191.8,1298.0" fill="none" stroke="#d8dde2" stroke-width="0.6" stroke-opacity="0.75" stroke-linejoin="round"/>
<polygon points="1099.7,1201.3 1194.0,1298.0 1184.2,1297.1 1120.4,1228.6" fill="#4a6b3a" stroke="#4a6b3a" stroke-width="1.8" stroke-linejoin="round"/>
<polygon points="1099.7,1201.3 1194.0,1298.0 1184.2,1297.1 1120.4,1228.6" fill="none" stroke="#d8dde2" stroke-width="0.6" stroke-opacity="0.75" stroke-linejoin="round"/>
<circle cx="1173.6" cy="1241.7" r="13.7" fill="url(#gG)"/>
<line x1="1184.2" y1="1260.6" x2="1188.4" y2="1273.2" stroke="#6f9e58" stroke-width="8.8" stroke-linecap="round"/>
<line x1="1184.2" y1="1260.6" x2="1188.4" y2="1273.2" stroke="#a5d98a" stroke-width="6.8" stroke-linecap="round"/>
<line x1="1188.4" y1="1273.2" x2="1195.8" y2="1295.5" stroke="#d43a2e" stroke-width="8.2"/>
<polygon points="1348.5,1189.1 1275.5,1249.9 1391.0,1253.0" fill="#d2752d" stroke="#d2752d" stroke-width="1.8" stroke-linejoin="round"/>
<polygon points="1348.5,1189.1 1275.5,1249.9 1391.0,1253.0" fill="none" stroke="#d8dde2" stroke-width="0.6" stroke-opacity="0.75" stroke-linejoin="round"/>
<polygon points="1278.5,1254.5 1389.5,1256.0 1316.5,1318.4" fill="#b5652a" stroke="#b5652a" stroke-width="1.8" stroke-linejoin="round"/>
<polygon points="1278.5,1254.5 1389.5,1256.0 1316.5,1318.4" fill="none" stroke="#d8dde2" stroke-width="0.6" stroke-opacity="0.75" stroke-linejoin="round"/>
<polygon points="1272.4,1256.0 1278.5,1254.5 1316.5,1318.4 1310.5,1315.3" fill="#7d4a1c" stroke="#7d4a1c" stroke-width="1.8" stroke-linejoin="round"/>
<polygon points="1272.4,1256.0 1278.5,1254.5 1316.5,1318.4 1310.5,1315.3" fill="none" stroke="#d8dde2" stroke-width="0.6" stroke-opacity="0.75" stroke-linejoin="round"/>
<polygon points="1388.6,1155.0 1419.0,1130.4 1430.0,1154.1" fill="#8fc46e" stroke="#8fc46e" stroke-width="1.8" stroke-linejoin="round"/>
<polygon points="1364.0,1010.2 1293.7,1077.1 1324.1,1098.4" fill="#7d4a1c" stroke="#7d4a1c" stroke-width="1.8" stroke-linejoin="round"/>
<polygon points="1364.0,1010.2 1293.7,1077.1 1324.1,1098.4" fill="none" stroke="#d8dde2" stroke-width="0.6" stroke-opacity="0.75" stroke-linejoin="round"/>
<polygon points="1366.7,1005.7 1324.1,1104.5 1445.8,1103.0" fill="#d2752d" stroke="#d2752d" stroke-width="1.8" stroke-linejoin="round"/>
<polygon points="1366.7,1005.7 1324.1,1104.5 1445.8,1103.0" fill="none" stroke="#d8dde2" stroke-width="0.6" stroke-opacity="0.75" stroke-linejoin="round"/>
<polygon points="1324.1,1105.2 1445.8,1103.3 1354.5,1184.5" fill="#b5652a" stroke="#b5652a" stroke-width="1.8" stroke-linejoin="round"/>
<polygon points="1324.1,1105.2 1445.8,1103.3 1354.5,1184.5" fill="none" stroke="#d8dde2" stroke-width="0.6" stroke-opacity="0.75" stroke-linejoin="round"/>
<polygon points="1304.4,1120.7 1322.6,1105.8 1351.5,1181.5" fill="#7d4a1c" stroke="#7d4a1c" stroke-width="1.8" stroke-linejoin="round"/>
<polygon points="1304.4,1120.7 1322.6,1105.8 1351.5,1181.5" fill="none" stroke="#d8dde2" stroke-width="0.6" stroke-opacity="0.75" stroke-linejoin="round"/>
<polygon points="1357.6,1187.6 1477.1,1170.9 1448.5,1274.3 1435.8,1277.9" fill="#8fc46e" stroke="#8fc46e" stroke-width="1.8" stroke-linejoin="round"/>
<polygon points="1357.6,1187.6 1477.1,1170.9 1448.5,1274.3 1435.8,1277.9" fill="none" stroke="#d8dde2" stroke-width="0.6" stroke-opacity="0.75" stroke-linejoin="round"/>
<polygon points="1360.0,1195.2 1436.1,1277.9 1393.5,1253.6" fill="#4a6b3a" stroke="#4a6b3a" stroke-width="1.8" stroke-linejoin="round"/>
<polygon points="1360.0,1195.2 1436.1,1277.9 1393.5,1253.6" fill="none" stroke="#d8dde2" stroke-width="0.6" stroke-opacity="0.75" stroke-linejoin="round"/>
<circle cx="1421.2" cy="1228.3" r="15.8" fill="url(#gG)"/>
<line x1="1426.9" y1="1243.5" x2="1432.6" y2="1256.8" stroke="#6f9e58" stroke-width="8.8" stroke-linecap="round"/>
<line x1="1426.9" y1="1243.5" x2="1432.6" y2="1256.8" stroke="#a5d98a" stroke-width="6.8" stroke-linecap="round"/>
<line x1="1432.6" y1="1256.8" x2="1442.7" y2="1280.3" stroke="#d43a2e" stroke-width="8.2"/>
<polyline points="1228.3,870.3 1429.1,870.3" fill="none" stroke="#111" stroke-width="1.1"/>
<polyline points="1425.4,943.3 1425.4,1066.5" fill="none" stroke="#1a1a1a" stroke-width="1.0"/>
<polyline points="1424.5,1064.4 1416.9,1222.6 1220.7,1236.2" fill="none" stroke="#111" stroke-width="1.1"/>
<polyline points="1178.2,923.5 1178.2,1095.4" fill="none" stroke="#111" stroke-width="1.1"/>
<polyline points="1177.5,1094.8 1175.1,1237.8" fill="none" stroke="#111" stroke-width="1.1"/>
<polyline points="1111.2,1168.7 1111.2,1178.8 1128.0,1194.6 1237.5,1193.7" fill="none" stroke="#111" stroke-width="1.0"/>
<polyline points="1111.2,1049.8 1111.2,1072.6" fill="none" stroke="#111" stroke-width="1.0"/>
<polyline points="1115.8,846.0 1124.9,852.1" fill="none" stroke="#1a1a1a" stroke-width="1.0"/>
<circle cx="1287.0" cy="732.8" r="11.6" fill="url(#oF)"/>
<line x1="1050.4" y1="811.0" x2="1063.1" y2="818.6" stroke="#d8372f" stroke-width="6" stroke-linecap="round"/>
<circle cx="1050.4" cy="811.0" r="10.6" fill="url(#oF)"/>
<line x1="1108.2" y1="821.7" x2="1123.0" y2="829.9" stroke="#d8372f" stroke-width="6" stroke-linecap="round"/>
<circle cx="1108.2" cy="821.7" r="12.8" fill="url(#oF)"/>
<line x1="1251.1" y1="817.1" x2="1269.0" y2="818.7" stroke="#d8372f" stroke-width="6" stroke-linecap="round"/>
<circle cx="1251.1" cy="817.1" r="13.7" fill="url(#oF)"/>
<line x1="1363.7" y1="824.7" x2="1377.5" y2="833.5" stroke="#d8372f" stroke-width="6" stroke-linecap="round"/>
<circle cx="1363.7" cy="824.7" r="12.2" fill="url(#oF)"/>
<circle cx="1492.9" cy="817.1" r="11.6" fill="url(#oF)"/>
<circle cx="1204.0" cy="925.1" r="13.7" fill="url(#oF)"/>
<circle cx="1328.7" cy="924.5" r="12.2" fill="url(#oF)"/>
<circle cx="1403.8" cy="917.5" r="9.1" fill="url(#oF)"/>
<circle cx="1459.5" cy="919.6" r="12.8" fill="url(#oF)"/>
<circle cx="1085.4" cy="993.5" r="11.6" fill="url(#oF)"/>
<line x1="1116.7" y1="1011.7" x2="1133.9" y2="1006.6" stroke="#d8372f" stroke-width="6" stroke-linecap="round"/>
<circle cx="1116.7" cy="1011.7" r="13.7" fill="url(#oF)"/>
<circle cx="1236.5" cy="1013.3" r="12.8" fill="url(#oF)"/>
<line x1="1371.9" y1="1001.7" x2="1385.1" y2="996.5" stroke="#d8372f" stroke-width="6" stroke-linecap="round"/>
<circle cx="1371.9" cy="1001.7" r="10.0" fill="url(#oF)"/>
<circle cx="1477.7" cy="1008.7" r="11.6" fill="url(#oF)"/>
<circle cx="1123.4" cy="1069.5" r="7.6" fill="url(#oF)"/>
<circle cx="1137.1" cy="1066.5" r="6.7" fill="url(#oF)"/>
<circle cx="1158.4" cy="1087.8" r="10.6" fill="url(#oF)"/>
<line x1="1194.9" y1="1113.6" x2="1212.3" y2="1109.6" stroke="#d8372f" stroke-width="6" stroke-linecap="round"/>
<circle cx="1194.9" cy="1113.6" r="13.7" fill="url(#oF)"/>
<line x1="1319.6" y1="1106.0" x2="1336.1" y2="1102.2" stroke="#d8372f" stroke-width="6" stroke-linecap="round"/>
<circle cx="1319.6" cy="1106.0" r="12.8" fill="url(#oF)"/>
<circle cx="1448.8" cy="1104.5" r="12.2" fill="url(#oF)"/>
<circle cx="1076.6" cy="1166.9" r="11.3" fill="url(#oF)"/>
<line x1="1104.4" y1="1198.8" x2="1119.4" y2="1206.8" stroke="#d8372f" stroke-width="6" stroke-linecap="round"/>
<circle cx="1104.4" cy="1198.8" r="12.8" fill="url(#oF)"/>
<circle cx="1196.7" cy="1303.2" r="13.4" fill="url(#oF)"/>
<line x1="1246.6" y1="1184.5" x2="1261.0" y2="1178.1" stroke="#d8372f" stroke-width="6" stroke-linecap="round"/>
<circle cx="1246.6" cy="1184.5" r="11.6" fill="url(#oF)"/>
<line x1="1272.4" y1="1251.5" x2="1287.2" y2="1246.1" stroke="#d8372f" stroke-width="6" stroke-linecap="round"/>
<circle cx="1272.4" cy="1251.5" r="11.6" fill="url(#oF)"/>
<line x1="1353.0" y1="1186.1" x2="1366.8" y2="1193.7" stroke="#d8372f" stroke-width="6" stroke-linecap="round"/>
<circle cx="1353.0" cy="1186.1" r="11.6" fill="url(#oF)"/>
<circle cx="1476.2" cy="1170.9" r="11.6" fill="url(#oF)"/>
<circle cx="1444.5" cy="1284.0" r="12.5" fill="url(#oF)"/></g><g font-family='"Liberation Sans",sans-serif' fill="#000"><text x="1409.71" y="852.10" font-size="33.50" textLength="43.14" lengthAdjust="spacingAndGlyphs" font-weight="bold">Ga</text></g><g font-family='"Liberation Sans",sans-serif' fill="#000"><text x="1391.07" y="992.50" font-size="33.50" textLength="33.37" lengthAdjust="spacingAndGlyphs" font-weight="bold">Al</text></g><g font-family='"Liberation Sans",sans-serif' fill="#000"><text x="1353.00" y="1100.40" font-size="33.50" textLength="48.97" lengthAdjust="spacingAndGlyphs" font-weight="bold">Mg</text></g><g font-family='"Liberation Sans",sans-serif' fill="#000"><text x="1148.32" y="1371.00" font-size="34.00" textLength="92.96" lengthAdjust="spacingAndGlyphs" font-weight="bold">Mg(Al</text><text x="1241.28" y="1376.78" font-size="21.76" textLength="29.78" lengthAdjust="spacingAndGlyphs" font-weight="bold">0.5</text><text x="1271.07" y="1371.00" font-size="34.00" textLength="44.66" lengthAdjust="spacingAndGlyphs" font-weight="bold">Ga</text><text x="1315.72" y="1376.78" font-size="21.76" textLength="29.78" lengthAdjust="spacingAndGlyphs" font-weight="bold">0.5</text><text x="1345.51" y="1371.00" font-size="34.00" textLength="11.15" lengthAdjust="spacingAndGlyphs" font-weight="bold">)</text><text x="1356.66" y="1376.78" font-size="21.76" textLength="11.92" lengthAdjust="spacingAndGlyphs" font-weight="bold">2</text><text x="1368.57" y="1371.00" font-size="34.00" textLength="26.04" lengthAdjust="spacingAndGlyphs" font-weight="bold">O</text><text x="1394.61" y="1376.78" font-size="21.76" textLength="11.92" lengthAdjust="spacingAndGlyphs" font-weight="bold">4</text></g>
</svg>
</body></html>
